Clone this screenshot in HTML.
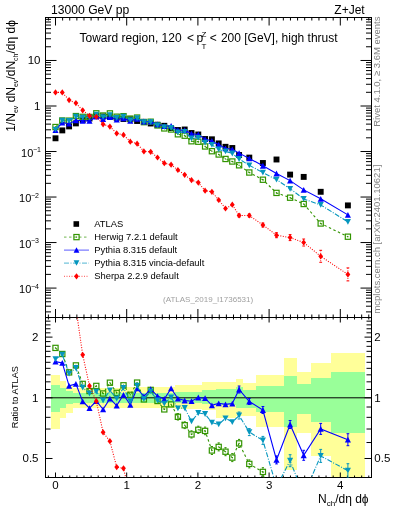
<!DOCTYPE html>
<html><head><meta charset="utf-8"><style>
html,body{margin:0;padding:0;background:#fff;width:393px;height:512px;overflow:hidden}
svg{display:block;font-family:"Liberation Sans", sans-serif;will-change:transform}
</style></head><body>
<svg width="393" height="512" viewBox="0 0 393 512">
<rect x="0" y="0" width="393" height="512" fill="#fff"/>
<defs><clipPath id="cu"><rect x="45.5" y="17.5" width="326" height="300"/></clipPath><clipPath id="cr"><rect x="45.5" y="317.5" width="326" height="160"/></clipPath></defs>
<g clip-path="url(#cr)" shape-rendering="crispEdges">
<rect x="51.20" y="374.80" width="8.50" height="53.90" fill="#ffff99"/>
<rect x="51.20" y="385.30" width="8.50" height="26.70" fill="#99ff99"/>
<rect x="59.70" y="381.20" width="6.30" height="36.40" fill="#ffff99"/>
<rect x="59.70" y="388.40" width="6.30" height="19.80" fill="#99ff99"/>
<rect x="66.00" y="385.50" width="6.80" height="27.20" fill="#ffff99"/>
<rect x="66.00" y="391.00" width="6.80" height="13.40" fill="#99ff99"/>
<rect x="72.80" y="387.50" width="6.80" height="20.90" fill="#ffff99"/>
<rect x="72.80" y="392.50" width="6.80" height="10.30" fill="#99ff99"/>
<rect x="79.60" y="388.00" width="6.80" height="19.50" fill="#ffff99"/>
<rect x="79.60" y="393.00" width="6.80" height="9.50" fill="#99ff99"/>
<rect x="86.40" y="388.00" width="6.80" height="19.50" fill="#ffff99"/>
<rect x="86.40" y="393.00" width="6.80" height="9.50" fill="#99ff99"/>
<rect x="93.20" y="388.00" width="6.80" height="19.50" fill="#ffff99"/>
<rect x="93.20" y="393.00" width="6.80" height="9.50" fill="#99ff99"/>
<rect x="100.00" y="388.00" width="6.80" height="19.50" fill="#ffff99"/>
<rect x="100.00" y="393.00" width="6.80" height="9.50" fill="#99ff99"/>
<rect x="106.80" y="388.00" width="6.80" height="19.50" fill="#ffff99"/>
<rect x="106.80" y="393.00" width="6.80" height="9.50" fill="#99ff99"/>
<rect x="113.60" y="388.00" width="6.80" height="19.50" fill="#ffff99"/>
<rect x="113.60" y="393.00" width="6.80" height="9.50" fill="#99ff99"/>
<rect x="120.40" y="387.00" width="6.80" height="20.50" fill="#ffff99"/>
<rect x="120.40" y="392.50" width="6.80" height="10.00" fill="#99ff99"/>
<rect x="127.20" y="387.00" width="6.80" height="20.50" fill="#ffff99"/>
<rect x="127.20" y="392.50" width="6.80" height="10.00" fill="#99ff99"/>
<rect x="134.00" y="387.00" width="6.80" height="20.50" fill="#ffff99"/>
<rect x="134.00" y="392.50" width="6.80" height="10.00" fill="#99ff99"/>
<rect x="140.80" y="387.00" width="6.80" height="20.50" fill="#ffff99"/>
<rect x="140.80" y="392.50" width="6.80" height="10.00" fill="#99ff99"/>
<rect x="147.60" y="387.00" width="6.80" height="20.50" fill="#ffff99"/>
<rect x="147.60" y="392.50" width="6.80" height="10.00" fill="#99ff99"/>
<rect x="154.40" y="387.00" width="6.80" height="20.50" fill="#ffff99"/>
<rect x="154.40" y="392.50" width="6.80" height="10.00" fill="#99ff99"/>
<rect x="161.20" y="387.00" width="6.80" height="20.50" fill="#ffff99"/>
<rect x="161.20" y="392.50" width="6.80" height="10.00" fill="#99ff99"/>
<rect x="168.00" y="387.00" width="6.80" height="20.50" fill="#ffff99"/>
<rect x="168.00" y="392.50" width="6.80" height="10.00" fill="#99ff99"/>
<rect x="174.80" y="385.00" width="6.80" height="23.50" fill="#ffff99"/>
<rect x="174.80" y="391.50" width="6.80" height="11.50" fill="#99ff99"/>
<rect x="181.60" y="385.00" width="6.80" height="23.50" fill="#ffff99"/>
<rect x="181.60" y="391.50" width="6.80" height="11.50" fill="#99ff99"/>
<rect x="188.40" y="385.00" width="6.80" height="23.50" fill="#ffff99"/>
<rect x="188.40" y="391.50" width="6.80" height="11.50" fill="#99ff99"/>
<rect x="195.20" y="385.00" width="6.80" height="23.50" fill="#ffff99"/>
<rect x="195.20" y="391.50" width="6.80" height="11.50" fill="#99ff99"/>
<rect x="202.00" y="382.00" width="6.80" height="27.90" fill="#ffff99"/>
<rect x="202.00" y="389.50" width="6.80" height="14.20" fill="#99ff99"/>
<rect x="208.80" y="382.00" width="6.80" height="27.90" fill="#ffff99"/>
<rect x="208.80" y="389.50" width="6.80" height="14.20" fill="#99ff99"/>
<rect x="215.60" y="382.40" width="6.80" height="35.50" fill="#ffff99"/>
<rect x="215.60" y="389.20" width="6.80" height="16.10" fill="#99ff99"/>
<rect x="222.40" y="382.40" width="6.80" height="35.50" fill="#ffff99"/>
<rect x="222.40" y="389.20" width="6.80" height="16.10" fill="#99ff99"/>
<rect x="229.20" y="382.40" width="6.80" height="35.50" fill="#ffff99"/>
<rect x="229.20" y="389.20" width="6.80" height="16.10" fill="#99ff99"/>
<rect x="236.00" y="379.40" width="6.80" height="36.20" fill="#ffff99"/>
<rect x="236.00" y="387.00" width="6.80" height="20.60" fill="#99ff99"/>
<rect x="242.80" y="383.00" width="13.60" height="32.60" fill="#ffff99"/>
<rect x="242.80" y="390.00" width="13.60" height="17.60" fill="#99ff99"/>
<rect x="256.40" y="375.00" width="13.60" height="52.30" fill="#ffff99"/>
<rect x="256.40" y="385.50" width="13.60" height="26.70" fill="#99ff99"/>
<rect x="270.00" y="375.00" width="13.60" height="52.30" fill="#ffff99"/>
<rect x="270.00" y="385.50" width="13.60" height="26.70" fill="#99ff99"/>
<rect x="283.60" y="358.30" width="13.60" height="111.30" fill="#ffff99"/>
<rect x="283.60" y="376.00" width="13.60" height="50.60" fill="#99ff99"/>
<rect x="297.20" y="372.00" width="13.60" height="61.10" fill="#ffff99"/>
<rect x="297.20" y="384.00" width="13.60" height="29.60" fill="#99ff99"/>
<rect x="310.80" y="362.90" width="20.40" height="92.90" fill="#ffff99"/>
<rect x="310.80" y="378.00" width="20.40" height="44.00" fill="#99ff99"/>
<rect x="331.20" y="352.90" width="34.00" height="125.10" fill="#ffff99"/>
<rect x="331.20" y="372.30" width="34.00" height="60.70" fill="#99ff99"/>
</g>
<rect x="45.5" y="17.5" width="326.0" height="300.0" fill="none" stroke="#000" stroke-width="1"/>
<rect x="45.5" y="317.5" width="326.0" height="160.0" fill="none" stroke="#000" stroke-width="1"/>
<line x1="48.38" y1="17.50" x2="48.38" y2="20.50" stroke="#000" stroke-width="1" />
<line x1="48.38" y1="317.50" x2="48.38" y2="314.50" stroke="#000" stroke-width="1" />
<line x1="48.38" y1="317.50" x2="48.38" y2="319.50" stroke="#000" stroke-width="1" />
<line x1="48.38" y1="477.50" x2="48.38" y2="475.50" stroke="#000" stroke-width="1" />
<line x1="55.50" y1="17.50" x2="55.50" y2="25.50" stroke="#000" stroke-width="1" />
<line x1="55.50" y1="317.50" x2="55.50" y2="309.00" stroke="#000" stroke-width="1" />
<line x1="55.50" y1="317.50" x2="55.50" y2="322.50" stroke="#000" stroke-width="1" />
<line x1="55.50" y1="477.50" x2="55.50" y2="472.50" stroke="#000" stroke-width="1" />
<line x1="62.62" y1="17.50" x2="62.62" y2="20.50" stroke="#000" stroke-width="1" />
<line x1="62.62" y1="317.50" x2="62.62" y2="314.50" stroke="#000" stroke-width="1" />
<line x1="62.62" y1="317.50" x2="62.62" y2="319.50" stroke="#000" stroke-width="1" />
<line x1="62.62" y1="477.50" x2="62.62" y2="475.50" stroke="#000" stroke-width="1" />
<line x1="69.74" y1="17.50" x2="69.74" y2="20.50" stroke="#000" stroke-width="1" />
<line x1="69.74" y1="317.50" x2="69.74" y2="314.50" stroke="#000" stroke-width="1" />
<line x1="69.74" y1="317.50" x2="69.74" y2="319.50" stroke="#000" stroke-width="1" />
<line x1="69.74" y1="477.50" x2="69.74" y2="475.50" stroke="#000" stroke-width="1" />
<line x1="76.86" y1="17.50" x2="76.86" y2="20.50" stroke="#000" stroke-width="1" />
<line x1="76.86" y1="317.50" x2="76.86" y2="314.50" stroke="#000" stroke-width="1" />
<line x1="76.86" y1="317.50" x2="76.86" y2="319.50" stroke="#000" stroke-width="1" />
<line x1="76.86" y1="477.50" x2="76.86" y2="475.50" stroke="#000" stroke-width="1" />
<line x1="83.98" y1="17.50" x2="83.98" y2="20.50" stroke="#000" stroke-width="1" />
<line x1="83.98" y1="317.50" x2="83.98" y2="314.50" stroke="#000" stroke-width="1" />
<line x1="83.98" y1="317.50" x2="83.98" y2="319.50" stroke="#000" stroke-width="1" />
<line x1="83.98" y1="477.50" x2="83.98" y2="475.50" stroke="#000" stroke-width="1" />
<line x1="91.10" y1="17.50" x2="91.10" y2="20.50" stroke="#000" stroke-width="1" />
<line x1="91.10" y1="317.50" x2="91.10" y2="314.50" stroke="#000" stroke-width="1" />
<line x1="91.10" y1="317.50" x2="91.10" y2="319.50" stroke="#000" stroke-width="1" />
<line x1="91.10" y1="477.50" x2="91.10" y2="475.50" stroke="#000" stroke-width="1" />
<line x1="98.22" y1="17.50" x2="98.22" y2="20.50" stroke="#000" stroke-width="1" />
<line x1="98.22" y1="317.50" x2="98.22" y2="314.50" stroke="#000" stroke-width="1" />
<line x1="98.22" y1="317.50" x2="98.22" y2="319.50" stroke="#000" stroke-width="1" />
<line x1="98.22" y1="477.50" x2="98.22" y2="475.50" stroke="#000" stroke-width="1" />
<line x1="105.34" y1="17.50" x2="105.34" y2="20.50" stroke="#000" stroke-width="1" />
<line x1="105.34" y1="317.50" x2="105.34" y2="314.50" stroke="#000" stroke-width="1" />
<line x1="105.34" y1="317.50" x2="105.34" y2="319.50" stroke="#000" stroke-width="1" />
<line x1="105.34" y1="477.50" x2="105.34" y2="475.50" stroke="#000" stroke-width="1" />
<line x1="112.46" y1="17.50" x2="112.46" y2="20.50" stroke="#000" stroke-width="1" />
<line x1="112.46" y1="317.50" x2="112.46" y2="314.50" stroke="#000" stroke-width="1" />
<line x1="112.46" y1="317.50" x2="112.46" y2="319.50" stroke="#000" stroke-width="1" />
<line x1="112.46" y1="477.50" x2="112.46" y2="475.50" stroke="#000" stroke-width="1" />
<line x1="119.58" y1="17.50" x2="119.58" y2="20.50" stroke="#000" stroke-width="1" />
<line x1="119.58" y1="317.50" x2="119.58" y2="314.50" stroke="#000" stroke-width="1" />
<line x1="119.58" y1="317.50" x2="119.58" y2="319.50" stroke="#000" stroke-width="1" />
<line x1="119.58" y1="477.50" x2="119.58" y2="475.50" stroke="#000" stroke-width="1" />
<line x1="126.70" y1="17.50" x2="126.70" y2="25.50" stroke="#000" stroke-width="1" />
<line x1="126.70" y1="317.50" x2="126.70" y2="309.00" stroke="#000" stroke-width="1" />
<line x1="126.70" y1="317.50" x2="126.70" y2="322.50" stroke="#000" stroke-width="1" />
<line x1="126.70" y1="477.50" x2="126.70" y2="472.50" stroke="#000" stroke-width="1" />
<line x1="133.82" y1="17.50" x2="133.82" y2="20.50" stroke="#000" stroke-width="1" />
<line x1="133.82" y1="317.50" x2="133.82" y2="314.50" stroke="#000" stroke-width="1" />
<line x1="133.82" y1="317.50" x2="133.82" y2="319.50" stroke="#000" stroke-width="1" />
<line x1="133.82" y1="477.50" x2="133.82" y2="475.50" stroke="#000" stroke-width="1" />
<line x1="140.94" y1="17.50" x2="140.94" y2="20.50" stroke="#000" stroke-width="1" />
<line x1="140.94" y1="317.50" x2="140.94" y2="314.50" stroke="#000" stroke-width="1" />
<line x1="140.94" y1="317.50" x2="140.94" y2="319.50" stroke="#000" stroke-width="1" />
<line x1="140.94" y1="477.50" x2="140.94" y2="475.50" stroke="#000" stroke-width="1" />
<line x1="148.06" y1="17.50" x2="148.06" y2="20.50" stroke="#000" stroke-width="1" />
<line x1="148.06" y1="317.50" x2="148.06" y2="314.50" stroke="#000" stroke-width="1" />
<line x1="148.06" y1="317.50" x2="148.06" y2="319.50" stroke="#000" stroke-width="1" />
<line x1="148.06" y1="477.50" x2="148.06" y2="475.50" stroke="#000" stroke-width="1" />
<line x1="155.18" y1="17.50" x2="155.18" y2="20.50" stroke="#000" stroke-width="1" />
<line x1="155.18" y1="317.50" x2="155.18" y2="314.50" stroke="#000" stroke-width="1" />
<line x1="155.18" y1="317.50" x2="155.18" y2="319.50" stroke="#000" stroke-width="1" />
<line x1="155.18" y1="477.50" x2="155.18" y2="475.50" stroke="#000" stroke-width="1" />
<line x1="162.30" y1="17.50" x2="162.30" y2="20.50" stroke="#000" stroke-width="1" />
<line x1="162.30" y1="317.50" x2="162.30" y2="314.50" stroke="#000" stroke-width="1" />
<line x1="162.30" y1="317.50" x2="162.30" y2="319.50" stroke="#000" stroke-width="1" />
<line x1="162.30" y1="477.50" x2="162.30" y2="475.50" stroke="#000" stroke-width="1" />
<line x1="169.42" y1="17.50" x2="169.42" y2="20.50" stroke="#000" stroke-width="1" />
<line x1="169.42" y1="317.50" x2="169.42" y2="314.50" stroke="#000" stroke-width="1" />
<line x1="169.42" y1="317.50" x2="169.42" y2="319.50" stroke="#000" stroke-width="1" />
<line x1="169.42" y1="477.50" x2="169.42" y2="475.50" stroke="#000" stroke-width="1" />
<line x1="176.54" y1="17.50" x2="176.54" y2="20.50" stroke="#000" stroke-width="1" />
<line x1="176.54" y1="317.50" x2="176.54" y2="314.50" stroke="#000" stroke-width="1" />
<line x1="176.54" y1="317.50" x2="176.54" y2="319.50" stroke="#000" stroke-width="1" />
<line x1="176.54" y1="477.50" x2="176.54" y2="475.50" stroke="#000" stroke-width="1" />
<line x1="183.66" y1="17.50" x2="183.66" y2="20.50" stroke="#000" stroke-width="1" />
<line x1="183.66" y1="317.50" x2="183.66" y2="314.50" stroke="#000" stroke-width="1" />
<line x1="183.66" y1="317.50" x2="183.66" y2="319.50" stroke="#000" stroke-width="1" />
<line x1="183.66" y1="477.50" x2="183.66" y2="475.50" stroke="#000" stroke-width="1" />
<line x1="190.78" y1="17.50" x2="190.78" y2="20.50" stroke="#000" stroke-width="1" />
<line x1="190.78" y1="317.50" x2="190.78" y2="314.50" stroke="#000" stroke-width="1" />
<line x1="190.78" y1="317.50" x2="190.78" y2="319.50" stroke="#000" stroke-width="1" />
<line x1="190.78" y1="477.50" x2="190.78" y2="475.50" stroke="#000" stroke-width="1" />
<line x1="197.90" y1="17.50" x2="197.90" y2="25.50" stroke="#000" stroke-width="1" />
<line x1="197.90" y1="317.50" x2="197.90" y2="309.00" stroke="#000" stroke-width="1" />
<line x1="197.90" y1="317.50" x2="197.90" y2="322.50" stroke="#000" stroke-width="1" />
<line x1="197.90" y1="477.50" x2="197.90" y2="472.50" stroke="#000" stroke-width="1" />
<line x1="205.02" y1="17.50" x2="205.02" y2="20.50" stroke="#000" stroke-width="1" />
<line x1="205.02" y1="317.50" x2="205.02" y2="314.50" stroke="#000" stroke-width="1" />
<line x1="205.02" y1="317.50" x2="205.02" y2="319.50" stroke="#000" stroke-width="1" />
<line x1="205.02" y1="477.50" x2="205.02" y2="475.50" stroke="#000" stroke-width="1" />
<line x1="212.14" y1="17.50" x2="212.14" y2="20.50" stroke="#000" stroke-width="1" />
<line x1="212.14" y1="317.50" x2="212.14" y2="314.50" stroke="#000" stroke-width="1" />
<line x1="212.14" y1="317.50" x2="212.14" y2="319.50" stroke="#000" stroke-width="1" />
<line x1="212.14" y1="477.50" x2="212.14" y2="475.50" stroke="#000" stroke-width="1" />
<line x1="219.26" y1="17.50" x2="219.26" y2="20.50" stroke="#000" stroke-width="1" />
<line x1="219.26" y1="317.50" x2="219.26" y2="314.50" stroke="#000" stroke-width="1" />
<line x1="219.26" y1="317.50" x2="219.26" y2="319.50" stroke="#000" stroke-width="1" />
<line x1="219.26" y1="477.50" x2="219.26" y2="475.50" stroke="#000" stroke-width="1" />
<line x1="226.38" y1="17.50" x2="226.38" y2="20.50" stroke="#000" stroke-width="1" />
<line x1="226.38" y1="317.50" x2="226.38" y2="314.50" stroke="#000" stroke-width="1" />
<line x1="226.38" y1="317.50" x2="226.38" y2="319.50" stroke="#000" stroke-width="1" />
<line x1="226.38" y1="477.50" x2="226.38" y2="475.50" stroke="#000" stroke-width="1" />
<line x1="233.50" y1="17.50" x2="233.50" y2="20.50" stroke="#000" stroke-width="1" />
<line x1="233.50" y1="317.50" x2="233.50" y2="314.50" stroke="#000" stroke-width="1" />
<line x1="233.50" y1="317.50" x2="233.50" y2="319.50" stroke="#000" stroke-width="1" />
<line x1="233.50" y1="477.50" x2="233.50" y2="475.50" stroke="#000" stroke-width="1" />
<line x1="240.62" y1="17.50" x2="240.62" y2="20.50" stroke="#000" stroke-width="1" />
<line x1="240.62" y1="317.50" x2="240.62" y2="314.50" stroke="#000" stroke-width="1" />
<line x1="240.62" y1="317.50" x2="240.62" y2="319.50" stroke="#000" stroke-width="1" />
<line x1="240.62" y1="477.50" x2="240.62" y2="475.50" stroke="#000" stroke-width="1" />
<line x1="247.74" y1="17.50" x2="247.74" y2="20.50" stroke="#000" stroke-width="1" />
<line x1="247.74" y1="317.50" x2="247.74" y2="314.50" stroke="#000" stroke-width="1" />
<line x1="247.74" y1="317.50" x2="247.74" y2="319.50" stroke="#000" stroke-width="1" />
<line x1="247.74" y1="477.50" x2="247.74" y2="475.50" stroke="#000" stroke-width="1" />
<line x1="254.86" y1="17.50" x2="254.86" y2="20.50" stroke="#000" stroke-width="1" />
<line x1="254.86" y1="317.50" x2="254.86" y2="314.50" stroke="#000" stroke-width="1" />
<line x1="254.86" y1="317.50" x2="254.86" y2="319.50" stroke="#000" stroke-width="1" />
<line x1="254.86" y1="477.50" x2="254.86" y2="475.50" stroke="#000" stroke-width="1" />
<line x1="261.98" y1="17.50" x2="261.98" y2="20.50" stroke="#000" stroke-width="1" />
<line x1="261.98" y1="317.50" x2="261.98" y2="314.50" stroke="#000" stroke-width="1" />
<line x1="261.98" y1="317.50" x2="261.98" y2="319.50" stroke="#000" stroke-width="1" />
<line x1="261.98" y1="477.50" x2="261.98" y2="475.50" stroke="#000" stroke-width="1" />
<line x1="269.10" y1="17.50" x2="269.10" y2="25.50" stroke="#000" stroke-width="1" />
<line x1="269.10" y1="317.50" x2="269.10" y2="309.00" stroke="#000" stroke-width="1" />
<line x1="269.10" y1="317.50" x2="269.10" y2="322.50" stroke="#000" stroke-width="1" />
<line x1="269.10" y1="477.50" x2="269.10" y2="472.50" stroke="#000" stroke-width="1" />
<line x1="276.22" y1="17.50" x2="276.22" y2="20.50" stroke="#000" stroke-width="1" />
<line x1="276.22" y1="317.50" x2="276.22" y2="314.50" stroke="#000" stroke-width="1" />
<line x1="276.22" y1="317.50" x2="276.22" y2="319.50" stroke="#000" stroke-width="1" />
<line x1="276.22" y1="477.50" x2="276.22" y2="475.50" stroke="#000" stroke-width="1" />
<line x1="283.34" y1="17.50" x2="283.34" y2="20.50" stroke="#000" stroke-width="1" />
<line x1="283.34" y1="317.50" x2="283.34" y2="314.50" stroke="#000" stroke-width="1" />
<line x1="283.34" y1="317.50" x2="283.34" y2="319.50" stroke="#000" stroke-width="1" />
<line x1="283.34" y1="477.50" x2="283.34" y2="475.50" stroke="#000" stroke-width="1" />
<line x1="290.46" y1="17.50" x2="290.46" y2="20.50" stroke="#000" stroke-width="1" />
<line x1="290.46" y1="317.50" x2="290.46" y2="314.50" stroke="#000" stroke-width="1" />
<line x1="290.46" y1="317.50" x2="290.46" y2="319.50" stroke="#000" stroke-width="1" />
<line x1="290.46" y1="477.50" x2="290.46" y2="475.50" stroke="#000" stroke-width="1" />
<line x1="297.58" y1="17.50" x2="297.58" y2="20.50" stroke="#000" stroke-width="1" />
<line x1="297.58" y1="317.50" x2="297.58" y2="314.50" stroke="#000" stroke-width="1" />
<line x1="297.58" y1="317.50" x2="297.58" y2="319.50" stroke="#000" stroke-width="1" />
<line x1="297.58" y1="477.50" x2="297.58" y2="475.50" stroke="#000" stroke-width="1" />
<line x1="304.70" y1="17.50" x2="304.70" y2="20.50" stroke="#000" stroke-width="1" />
<line x1="304.70" y1="317.50" x2="304.70" y2="314.50" stroke="#000" stroke-width="1" />
<line x1="304.70" y1="317.50" x2="304.70" y2="319.50" stroke="#000" stroke-width="1" />
<line x1="304.70" y1="477.50" x2="304.70" y2="475.50" stroke="#000" stroke-width="1" />
<line x1="311.82" y1="17.50" x2="311.82" y2="20.50" stroke="#000" stroke-width="1" />
<line x1="311.82" y1="317.50" x2="311.82" y2="314.50" stroke="#000" stroke-width="1" />
<line x1="311.82" y1="317.50" x2="311.82" y2="319.50" stroke="#000" stroke-width="1" />
<line x1="311.82" y1="477.50" x2="311.82" y2="475.50" stroke="#000" stroke-width="1" />
<line x1="318.94" y1="17.50" x2="318.94" y2="20.50" stroke="#000" stroke-width="1" />
<line x1="318.94" y1="317.50" x2="318.94" y2="314.50" stroke="#000" stroke-width="1" />
<line x1="318.94" y1="317.50" x2="318.94" y2="319.50" stroke="#000" stroke-width="1" />
<line x1="318.94" y1="477.50" x2="318.94" y2="475.50" stroke="#000" stroke-width="1" />
<line x1="326.06" y1="17.50" x2="326.06" y2="20.50" stroke="#000" stroke-width="1" />
<line x1="326.06" y1="317.50" x2="326.06" y2="314.50" stroke="#000" stroke-width="1" />
<line x1="326.06" y1="317.50" x2="326.06" y2="319.50" stroke="#000" stroke-width="1" />
<line x1="326.06" y1="477.50" x2="326.06" y2="475.50" stroke="#000" stroke-width="1" />
<line x1="333.18" y1="17.50" x2="333.18" y2="20.50" stroke="#000" stroke-width="1" />
<line x1="333.18" y1="317.50" x2="333.18" y2="314.50" stroke="#000" stroke-width="1" />
<line x1="333.18" y1="317.50" x2="333.18" y2="319.50" stroke="#000" stroke-width="1" />
<line x1="333.18" y1="477.50" x2="333.18" y2="475.50" stroke="#000" stroke-width="1" />
<line x1="340.30" y1="17.50" x2="340.30" y2="25.50" stroke="#000" stroke-width="1" />
<line x1="340.30" y1="317.50" x2="340.30" y2="309.00" stroke="#000" stroke-width="1" />
<line x1="340.30" y1="317.50" x2="340.30" y2="322.50" stroke="#000" stroke-width="1" />
<line x1="340.30" y1="477.50" x2="340.30" y2="472.50" stroke="#000" stroke-width="1" />
<line x1="347.42" y1="17.50" x2="347.42" y2="20.50" stroke="#000" stroke-width="1" />
<line x1="347.42" y1="317.50" x2="347.42" y2="314.50" stroke="#000" stroke-width="1" />
<line x1="347.42" y1="317.50" x2="347.42" y2="319.50" stroke="#000" stroke-width="1" />
<line x1="347.42" y1="477.50" x2="347.42" y2="475.50" stroke="#000" stroke-width="1" />
<line x1="354.54" y1="17.50" x2="354.54" y2="20.50" stroke="#000" stroke-width="1" />
<line x1="354.54" y1="317.50" x2="354.54" y2="314.50" stroke="#000" stroke-width="1" />
<line x1="354.54" y1="317.50" x2="354.54" y2="319.50" stroke="#000" stroke-width="1" />
<line x1="354.54" y1="477.50" x2="354.54" y2="475.50" stroke="#000" stroke-width="1" />
<line x1="361.66" y1="17.50" x2="361.66" y2="20.50" stroke="#000" stroke-width="1" />
<line x1="361.66" y1="317.50" x2="361.66" y2="314.50" stroke="#000" stroke-width="1" />
<line x1="361.66" y1="317.50" x2="361.66" y2="319.50" stroke="#000" stroke-width="1" />
<line x1="361.66" y1="477.50" x2="361.66" y2="475.50" stroke="#000" stroke-width="1" />
<line x1="368.78" y1="17.50" x2="368.78" y2="20.50" stroke="#000" stroke-width="1" />
<line x1="368.78" y1="317.50" x2="368.78" y2="314.50" stroke="#000" stroke-width="1" />
<line x1="368.78" y1="317.50" x2="368.78" y2="319.50" stroke="#000" stroke-width="1" />
<line x1="368.78" y1="477.50" x2="368.78" y2="475.50" stroke="#000" stroke-width="1" />
<line x1="45.50" y1="311.88" x2="51.00" y2="311.88" stroke="#000" stroke-width="1" />
<line x1="371.50" y1="311.88" x2="366.00" y2="311.88" stroke="#000" stroke-width="1" />
<line x1="45.50" y1="306.19" x2="51.00" y2="306.19" stroke="#000" stroke-width="1" />
<line x1="371.50" y1="306.19" x2="366.00" y2="306.19" stroke="#000" stroke-width="1" />
<line x1="45.50" y1="301.78" x2="51.00" y2="301.78" stroke="#000" stroke-width="1" />
<line x1="371.50" y1="301.78" x2="366.00" y2="301.78" stroke="#000" stroke-width="1" />
<line x1="45.50" y1="298.18" x2="51.00" y2="298.18" stroke="#000" stroke-width="1" />
<line x1="371.50" y1="298.18" x2="366.00" y2="298.18" stroke="#000" stroke-width="1" />
<line x1="45.50" y1="295.13" x2="51.00" y2="295.13" stroke="#000" stroke-width="1" />
<line x1="371.50" y1="295.13" x2="366.00" y2="295.13" stroke="#000" stroke-width="1" />
<line x1="45.50" y1="292.49" x2="51.00" y2="292.49" stroke="#000" stroke-width="1" />
<line x1="371.50" y1="292.49" x2="366.00" y2="292.49" stroke="#000" stroke-width="1" />
<line x1="45.50" y1="290.16" x2="51.00" y2="290.16" stroke="#000" stroke-width="1" />
<line x1="371.50" y1="290.16" x2="366.00" y2="290.16" stroke="#000" stroke-width="1" />
<line x1="45.50" y1="288.08" x2="56.50" y2="288.08" stroke="#000" stroke-width="1" />
<line x1="371.50" y1="288.08" x2="360.50" y2="288.08" stroke="#000" stroke-width="1" />
<line x1="45.50" y1="274.38" x2="51.00" y2="274.38" stroke="#000" stroke-width="1" />
<line x1="371.50" y1="274.38" x2="366.00" y2="274.38" stroke="#000" stroke-width="1" />
<line x1="45.50" y1="266.36" x2="51.00" y2="266.36" stroke="#000" stroke-width="1" />
<line x1="371.50" y1="266.36" x2="366.00" y2="266.36" stroke="#000" stroke-width="1" />
<line x1="45.50" y1="260.67" x2="51.00" y2="260.67" stroke="#000" stroke-width="1" />
<line x1="371.50" y1="260.67" x2="366.00" y2="260.67" stroke="#000" stroke-width="1" />
<line x1="45.50" y1="256.26" x2="51.00" y2="256.26" stroke="#000" stroke-width="1" />
<line x1="371.50" y1="256.26" x2="366.00" y2="256.26" stroke="#000" stroke-width="1" />
<line x1="45.50" y1="252.66" x2="51.00" y2="252.66" stroke="#000" stroke-width="1" />
<line x1="371.50" y1="252.66" x2="366.00" y2="252.66" stroke="#000" stroke-width="1" />
<line x1="45.50" y1="249.61" x2="51.00" y2="249.61" stroke="#000" stroke-width="1" />
<line x1="371.50" y1="249.61" x2="366.00" y2="249.61" stroke="#000" stroke-width="1" />
<line x1="45.50" y1="246.97" x2="51.00" y2="246.97" stroke="#000" stroke-width="1" />
<line x1="371.50" y1="246.97" x2="366.00" y2="246.97" stroke="#000" stroke-width="1" />
<line x1="45.50" y1="244.64" x2="51.00" y2="244.64" stroke="#000" stroke-width="1" />
<line x1="371.50" y1="244.64" x2="366.00" y2="244.64" stroke="#000" stroke-width="1" />
<line x1="45.50" y1="242.56" x2="56.50" y2="242.56" stroke="#000" stroke-width="1" />
<line x1="371.50" y1="242.56" x2="360.50" y2="242.56" stroke="#000" stroke-width="1" />
<line x1="45.50" y1="228.86" x2="51.00" y2="228.86" stroke="#000" stroke-width="1" />
<line x1="371.50" y1="228.86" x2="366.00" y2="228.86" stroke="#000" stroke-width="1" />
<line x1="45.50" y1="220.84" x2="51.00" y2="220.84" stroke="#000" stroke-width="1" />
<line x1="371.50" y1="220.84" x2="366.00" y2="220.84" stroke="#000" stroke-width="1" />
<line x1="45.50" y1="215.15" x2="51.00" y2="215.15" stroke="#000" stroke-width="1" />
<line x1="371.50" y1="215.15" x2="366.00" y2="215.15" stroke="#000" stroke-width="1" />
<line x1="45.50" y1="210.74" x2="51.00" y2="210.74" stroke="#000" stroke-width="1" />
<line x1="371.50" y1="210.74" x2="366.00" y2="210.74" stroke="#000" stroke-width="1" />
<line x1="45.50" y1="207.14" x2="51.00" y2="207.14" stroke="#000" stroke-width="1" />
<line x1="371.50" y1="207.14" x2="366.00" y2="207.14" stroke="#000" stroke-width="1" />
<line x1="45.50" y1="204.09" x2="51.00" y2="204.09" stroke="#000" stroke-width="1" />
<line x1="371.50" y1="204.09" x2="366.00" y2="204.09" stroke="#000" stroke-width="1" />
<line x1="45.50" y1="201.45" x2="51.00" y2="201.45" stroke="#000" stroke-width="1" />
<line x1="371.50" y1="201.45" x2="366.00" y2="201.45" stroke="#000" stroke-width="1" />
<line x1="45.50" y1="199.12" x2="51.00" y2="199.12" stroke="#000" stroke-width="1" />
<line x1="371.50" y1="199.12" x2="366.00" y2="199.12" stroke="#000" stroke-width="1" />
<line x1="45.50" y1="197.04" x2="56.50" y2="197.04" stroke="#000" stroke-width="1" />
<line x1="371.50" y1="197.04" x2="360.50" y2="197.04" stroke="#000" stroke-width="1" />
<line x1="45.50" y1="183.34" x2="51.00" y2="183.34" stroke="#000" stroke-width="1" />
<line x1="371.50" y1="183.34" x2="366.00" y2="183.34" stroke="#000" stroke-width="1" />
<line x1="45.50" y1="175.32" x2="51.00" y2="175.32" stroke="#000" stroke-width="1" />
<line x1="371.50" y1="175.32" x2="366.00" y2="175.32" stroke="#000" stroke-width="1" />
<line x1="45.50" y1="169.63" x2="51.00" y2="169.63" stroke="#000" stroke-width="1" />
<line x1="371.50" y1="169.63" x2="366.00" y2="169.63" stroke="#000" stroke-width="1" />
<line x1="45.50" y1="165.22" x2="51.00" y2="165.22" stroke="#000" stroke-width="1" />
<line x1="371.50" y1="165.22" x2="366.00" y2="165.22" stroke="#000" stroke-width="1" />
<line x1="45.50" y1="161.62" x2="51.00" y2="161.62" stroke="#000" stroke-width="1" />
<line x1="371.50" y1="161.62" x2="366.00" y2="161.62" stroke="#000" stroke-width="1" />
<line x1="45.50" y1="158.57" x2="51.00" y2="158.57" stroke="#000" stroke-width="1" />
<line x1="371.50" y1="158.57" x2="366.00" y2="158.57" stroke="#000" stroke-width="1" />
<line x1="45.50" y1="155.93" x2="51.00" y2="155.93" stroke="#000" stroke-width="1" />
<line x1="371.50" y1="155.93" x2="366.00" y2="155.93" stroke="#000" stroke-width="1" />
<line x1="45.50" y1="153.60" x2="51.00" y2="153.60" stroke="#000" stroke-width="1" />
<line x1="371.50" y1="153.60" x2="366.00" y2="153.60" stroke="#000" stroke-width="1" />
<line x1="45.50" y1="151.52" x2="56.50" y2="151.52" stroke="#000" stroke-width="1" />
<line x1="371.50" y1="151.52" x2="360.50" y2="151.52" stroke="#000" stroke-width="1" />
<line x1="45.50" y1="137.82" x2="51.00" y2="137.82" stroke="#000" stroke-width="1" />
<line x1="371.50" y1="137.82" x2="366.00" y2="137.82" stroke="#000" stroke-width="1" />
<line x1="45.50" y1="129.80" x2="51.00" y2="129.80" stroke="#000" stroke-width="1" />
<line x1="371.50" y1="129.80" x2="366.00" y2="129.80" stroke="#000" stroke-width="1" />
<line x1="45.50" y1="124.11" x2="51.00" y2="124.11" stroke="#000" stroke-width="1" />
<line x1="371.50" y1="124.11" x2="366.00" y2="124.11" stroke="#000" stroke-width="1" />
<line x1="45.50" y1="119.70" x2="51.00" y2="119.70" stroke="#000" stroke-width="1" />
<line x1="371.50" y1="119.70" x2="366.00" y2="119.70" stroke="#000" stroke-width="1" />
<line x1="45.50" y1="116.10" x2="51.00" y2="116.10" stroke="#000" stroke-width="1" />
<line x1="371.50" y1="116.10" x2="366.00" y2="116.10" stroke="#000" stroke-width="1" />
<line x1="45.50" y1="113.05" x2="51.00" y2="113.05" stroke="#000" stroke-width="1" />
<line x1="371.50" y1="113.05" x2="366.00" y2="113.05" stroke="#000" stroke-width="1" />
<line x1="45.50" y1="110.41" x2="51.00" y2="110.41" stroke="#000" stroke-width="1" />
<line x1="371.50" y1="110.41" x2="366.00" y2="110.41" stroke="#000" stroke-width="1" />
<line x1="45.50" y1="108.08" x2="51.00" y2="108.08" stroke="#000" stroke-width="1" />
<line x1="371.50" y1="108.08" x2="366.00" y2="108.08" stroke="#000" stroke-width="1" />
<line x1="45.50" y1="106.00" x2="56.50" y2="106.00" stroke="#000" stroke-width="1" />
<line x1="371.50" y1="106.00" x2="360.50" y2="106.00" stroke="#000" stroke-width="1" />
<line x1="45.50" y1="92.30" x2="51.00" y2="92.30" stroke="#000" stroke-width="1" />
<line x1="371.50" y1="92.30" x2="366.00" y2="92.30" stroke="#000" stroke-width="1" />
<line x1="45.50" y1="84.28" x2="51.00" y2="84.28" stroke="#000" stroke-width="1" />
<line x1="371.50" y1="84.28" x2="366.00" y2="84.28" stroke="#000" stroke-width="1" />
<line x1="45.50" y1="78.59" x2="51.00" y2="78.59" stroke="#000" stroke-width="1" />
<line x1="371.50" y1="78.59" x2="366.00" y2="78.59" stroke="#000" stroke-width="1" />
<line x1="45.50" y1="74.18" x2="51.00" y2="74.18" stroke="#000" stroke-width="1" />
<line x1="371.50" y1="74.18" x2="366.00" y2="74.18" stroke="#000" stroke-width="1" />
<line x1="45.50" y1="70.58" x2="51.00" y2="70.58" stroke="#000" stroke-width="1" />
<line x1="371.50" y1="70.58" x2="366.00" y2="70.58" stroke="#000" stroke-width="1" />
<line x1="45.50" y1="67.53" x2="51.00" y2="67.53" stroke="#000" stroke-width="1" />
<line x1="371.50" y1="67.53" x2="366.00" y2="67.53" stroke="#000" stroke-width="1" />
<line x1="45.50" y1="64.89" x2="51.00" y2="64.89" stroke="#000" stroke-width="1" />
<line x1="371.50" y1="64.89" x2="366.00" y2="64.89" stroke="#000" stroke-width="1" />
<line x1="45.50" y1="62.56" x2="51.00" y2="62.56" stroke="#000" stroke-width="1" />
<line x1="371.50" y1="62.56" x2="366.00" y2="62.56" stroke="#000" stroke-width="1" />
<line x1="45.50" y1="60.48" x2="56.50" y2="60.48" stroke="#000" stroke-width="1" />
<line x1="371.50" y1="60.48" x2="360.50" y2="60.48" stroke="#000" stroke-width="1" />
<line x1="45.50" y1="46.78" x2="51.00" y2="46.78" stroke="#000" stroke-width="1" />
<line x1="371.50" y1="46.78" x2="366.00" y2="46.78" stroke="#000" stroke-width="1" />
<line x1="45.50" y1="38.76" x2="51.00" y2="38.76" stroke="#000" stroke-width="1" />
<line x1="371.50" y1="38.76" x2="366.00" y2="38.76" stroke="#000" stroke-width="1" />
<line x1="45.50" y1="33.07" x2="51.00" y2="33.07" stroke="#000" stroke-width="1" />
<line x1="371.50" y1="33.07" x2="366.00" y2="33.07" stroke="#000" stroke-width="1" />
<line x1="45.50" y1="28.66" x2="51.00" y2="28.66" stroke="#000" stroke-width="1" />
<line x1="371.50" y1="28.66" x2="366.00" y2="28.66" stroke="#000" stroke-width="1" />
<line x1="45.50" y1="25.06" x2="51.00" y2="25.06" stroke="#000" stroke-width="1" />
<line x1="371.50" y1="25.06" x2="366.00" y2="25.06" stroke="#000" stroke-width="1" />
<line x1="45.50" y1="22.01" x2="51.00" y2="22.01" stroke="#000" stroke-width="1" />
<line x1="371.50" y1="22.01" x2="366.00" y2="22.01" stroke="#000" stroke-width="1" />
<line x1="45.50" y1="19.37" x2="51.00" y2="19.37" stroke="#000" stroke-width="1" />
<line x1="371.50" y1="19.37" x2="366.00" y2="19.37" stroke="#000" stroke-width="1" />
<line x1="45.50" y1="458.49" x2="52.50" y2="458.49" stroke="#000" stroke-width="1" />
<line x1="371.50" y1="458.49" x2="364.50" y2="458.49" stroke="#000" stroke-width="1" />
<line x1="45.50" y1="442.52" x2="50.50" y2="442.52" stroke="#000" stroke-width="1" />
<line x1="371.50" y1="442.52" x2="366.50" y2="442.52" stroke="#000" stroke-width="1" />
<line x1="45.50" y1="429.03" x2="50.50" y2="429.03" stroke="#000" stroke-width="1" />
<line x1="371.50" y1="429.03" x2="366.50" y2="429.03" stroke="#000" stroke-width="1" />
<line x1="45.50" y1="417.34" x2="50.50" y2="417.34" stroke="#000" stroke-width="1" />
<line x1="371.50" y1="417.34" x2="366.50" y2="417.34" stroke="#000" stroke-width="1" />
<line x1="45.50" y1="407.02" x2="50.50" y2="407.02" stroke="#000" stroke-width="1" />
<line x1="371.50" y1="407.02" x2="366.50" y2="407.02" stroke="#000" stroke-width="1" />
<line x1="45.50" y1="397.80" x2="52.50" y2="397.80" stroke="#000" stroke-width="1" />
<line x1="371.50" y1="397.80" x2="364.50" y2="397.80" stroke="#000" stroke-width="1" />
<line x1="45.50" y1="389.46" x2="50.50" y2="389.46" stroke="#000" stroke-width="1" />
<line x1="371.50" y1="389.46" x2="366.50" y2="389.46" stroke="#000" stroke-width="1" />
<line x1="45.50" y1="381.84" x2="50.50" y2="381.84" stroke="#000" stroke-width="1" />
<line x1="371.50" y1="381.84" x2="366.50" y2="381.84" stroke="#000" stroke-width="1" />
<line x1="45.50" y1="374.83" x2="50.50" y2="374.83" stroke="#000" stroke-width="1" />
<line x1="371.50" y1="374.83" x2="366.50" y2="374.83" stroke="#000" stroke-width="1" />
<line x1="45.50" y1="368.34" x2="50.50" y2="368.34" stroke="#000" stroke-width="1" />
<line x1="371.50" y1="368.34" x2="366.50" y2="368.34" stroke="#000" stroke-width="1" />
<line x1="45.50" y1="362.30" x2="50.50" y2="362.30" stroke="#000" stroke-width="1" />
<line x1="371.50" y1="362.30" x2="366.50" y2="362.30" stroke="#000" stroke-width="1" />
<line x1="45.50" y1="356.65" x2="50.50" y2="356.65" stroke="#000" stroke-width="1" />
<line x1="371.50" y1="356.65" x2="366.50" y2="356.65" stroke="#000" stroke-width="1" />
<line x1="45.50" y1="351.34" x2="50.50" y2="351.34" stroke="#000" stroke-width="1" />
<line x1="371.50" y1="351.34" x2="366.50" y2="351.34" stroke="#000" stroke-width="1" />
<line x1="45.50" y1="346.34" x2="50.50" y2="346.34" stroke="#000" stroke-width="1" />
<line x1="371.50" y1="346.34" x2="366.50" y2="346.34" stroke="#000" stroke-width="1" />
<line x1="45.50" y1="341.60" x2="50.50" y2="341.60" stroke="#000" stroke-width="1" />
<line x1="371.50" y1="341.60" x2="366.50" y2="341.60" stroke="#000" stroke-width="1" />
<line x1="45.50" y1="337.11" x2="52.50" y2="337.11" stroke="#000" stroke-width="1" />
<line x1="371.50" y1="337.11" x2="364.50" y2="337.11" stroke="#000" stroke-width="1" />
<line x1="45.50" y1="332.84" x2="50.50" y2="332.84" stroke="#000" stroke-width="1" />
<line x1="371.50" y1="332.84" x2="366.50" y2="332.84" stroke="#000" stroke-width="1" />
<line x1="45.50" y1="328.77" x2="50.50" y2="328.77" stroke="#000" stroke-width="1" />
<line x1="371.50" y1="328.77" x2="366.50" y2="328.77" stroke="#000" stroke-width="1" />
<line x1="45.50" y1="324.88" x2="50.50" y2="324.88" stroke="#000" stroke-width="1" />
<line x1="371.50" y1="324.88" x2="366.50" y2="324.88" stroke="#000" stroke-width="1" />
<line x1="45.50" y1="321.15" x2="50.50" y2="321.15" stroke="#000" stroke-width="1" />
<line x1="371.50" y1="321.15" x2="366.50" y2="321.15" stroke="#000" stroke-width="1" />
<line x1="45.50" y1="317.58" x2="50.50" y2="317.58" stroke="#000" stroke-width="1" />
<line x1="371.50" y1="317.58" x2="366.50" y2="317.58" stroke="#000" stroke-width="1" />
<line x1="45.50" y1="397.80" x2="371.50" y2="397.80" stroke="#000" stroke-width="1" />
<g clip-path="url(#cu)">
<rect x="52.55" y="135.35" width="5.9" height="5.9" fill="#000"/>
<rect x="59.35" y="127.45" width="5.9" height="5.9" fill="#000"/>
<rect x="66.15" y="123.45" width="5.9" height="5.9" fill="#000"/>
<rect x="72.95" y="120.45" width="5.9" height="5.9" fill="#000"/>
<rect x="79.75" y="117.05" width="5.9" height="5.9" fill="#000"/>
<rect x="86.55" y="115.55" width="5.9" height="5.9" fill="#000"/>
<rect x="93.35" y="113.05" width="5.9" height="5.9" fill="#000"/>
<rect x="100.15" y="113.55" width="5.9" height="5.9" fill="#000"/>
<rect x="106.95" y="113.85" width="5.9" height="5.9" fill="#000"/>
<rect x="113.75" y="114.85" width="5.9" height="5.9" fill="#000"/>
<rect x="120.55" y="116.05" width="5.9" height="5.9" fill="#000"/>
<rect x="127.35" y="116.35" width="5.9" height="5.9" fill="#000"/>
<rect x="134.15" y="118.05" width="5.9" height="5.9" fill="#000"/>
<rect x="140.95" y="118.85" width="5.9" height="5.9" fill="#000"/>
<rect x="147.75" y="120.55" width="5.9" height="5.9" fill="#000"/>
<rect x="154.55" y="121.75" width="5.9" height="5.9" fill="#000"/>
<rect x="161.35" y="122.85" width="5.9" height="5.9" fill="#000"/>
<rect x="168.15" y="125.05" width="5.9" height="5.9" fill="#000"/>
<rect x="174.95" y="127.05" width="5.9" height="5.9" fill="#000"/>
<rect x="181.75" y="126.55" width="5.9" height="5.9" fill="#000"/>
<rect x="188.55" y="130.05" width="5.9" height="5.9" fill="#000"/>
<rect x="195.35" y="131.55" width="5.9" height="5.9" fill="#000"/>
<rect x="202.15" y="136.05" width="5.9" height="5.9" fill="#000"/>
<rect x="208.95" y="136.35" width="5.9" height="5.9" fill="#000"/>
<rect x="215.75" y="140.45" width="5.9" height="5.9" fill="#000"/>
<rect x="222.55" y="143.85" width="5.9" height="5.9" fill="#000"/>
<rect x="229.35" y="145.05" width="5.9" height="5.9" fill="#000"/>
<rect x="236.15" y="152.05" width="5.9" height="5.9" fill="#000"/>
<rect x="246.35" y="154.65" width="5.9" height="5.9" fill="#000"/>
<rect x="259.95" y="160.05" width="5.9" height="5.9" fill="#000"/>
<rect x="273.55" y="156.55" width="5.9" height="5.9" fill="#000"/>
<rect x="287.15" y="171.65" width="5.9" height="5.9" fill="#000"/>
<rect x="300.75" y="173.95" width="5.9" height="5.9" fill="#000"/>
<rect x="317.75" y="188.85" width="5.9" height="5.9" fill="#000"/>
<rect x="344.95" y="202.45" width="5.9" height="5.9" fill="#000"/>
<polyline points="55.50,127.03 62.30,120.51 69.10,120.66 75.90,116.08 82.70,116.86 89.50,116.96 96.30,113.31 103.10,115.53 109.90,113.39 116.70,116.69 123.50,116.18 130.30,118.62 137.10,117.57 143.90,122.16 150.70,121.72 157.50,125.42 164.30,128.42 171.10,129.49 177.90,134.29 184.70,135.69 191.50,141.26 198.30,141.73 205.10,146.47 211.90,151.20 218.70,154.49 225.50,158.97 232.30,161.50 239.10,165.30 249.30,172.52 262.90,179.73 276.50,192.90 290.10,197.70 303.70,204.00 320.70,223.50 347.90,236.70" fill="none" stroke="#329400" stroke-width="1.1" stroke-dasharray="2.5,2.5"/>
<rect x="52.90" y="124.43" width="5.2" height="5.2" fill="none" stroke="#329400" stroke-width="1.2"/><rect x="54.90" y="126.43" width="1.2" height="1.2" fill="#329400"/>
<rect x="59.70" y="117.91" width="5.2" height="5.2" fill="none" stroke="#329400" stroke-width="1.2"/><rect x="61.70" y="119.91" width="1.2" height="1.2" fill="#329400"/>
<rect x="66.50" y="118.06" width="5.2" height="5.2" fill="none" stroke="#329400" stroke-width="1.2"/><rect x="68.50" y="120.06" width="1.2" height="1.2" fill="#329400"/>
<rect x="73.30" y="113.48" width="5.2" height="5.2" fill="none" stroke="#329400" stroke-width="1.2"/><rect x="75.30" y="115.48" width="1.2" height="1.2" fill="#329400"/>
<rect x="80.10" y="114.26" width="5.2" height="5.2" fill="none" stroke="#329400" stroke-width="1.2"/><rect x="82.10" y="116.26" width="1.2" height="1.2" fill="#329400"/>
<rect x="86.90" y="114.36" width="5.2" height="5.2" fill="none" stroke="#329400" stroke-width="1.2"/><rect x="88.90" y="116.36" width="1.2" height="1.2" fill="#329400"/>
<rect x="93.70" y="110.71" width="5.2" height="5.2" fill="none" stroke="#329400" stroke-width="1.2"/><rect x="95.70" y="112.71" width="1.2" height="1.2" fill="#329400"/>
<rect x="100.50" y="112.93" width="5.2" height="5.2" fill="none" stroke="#329400" stroke-width="1.2"/><rect x="102.50" y="114.93" width="1.2" height="1.2" fill="#329400"/>
<rect x="107.30" y="110.79" width="5.2" height="5.2" fill="none" stroke="#329400" stroke-width="1.2"/><rect x="109.30" y="112.79" width="1.2" height="1.2" fill="#329400"/>
<rect x="114.10" y="114.09" width="5.2" height="5.2" fill="none" stroke="#329400" stroke-width="1.2"/><rect x="116.10" y="116.09" width="1.2" height="1.2" fill="#329400"/>
<rect x="120.90" y="113.58" width="5.2" height="5.2" fill="none" stroke="#329400" stroke-width="1.2"/><rect x="122.90" y="115.58" width="1.2" height="1.2" fill="#329400"/>
<rect x="127.70" y="116.02" width="5.2" height="5.2" fill="none" stroke="#329400" stroke-width="1.2"/><rect x="129.70" y="118.02" width="1.2" height="1.2" fill="#329400"/>
<rect x="134.50" y="114.97" width="5.2" height="5.2" fill="none" stroke="#329400" stroke-width="1.2"/><rect x="136.50" y="116.97" width="1.2" height="1.2" fill="#329400"/>
<rect x="141.30" y="119.56" width="5.2" height="5.2" fill="none" stroke="#329400" stroke-width="1.2"/><rect x="143.30" y="121.56" width="1.2" height="1.2" fill="#329400"/>
<rect x="148.10" y="119.12" width="5.2" height="5.2" fill="none" stroke="#329400" stroke-width="1.2"/><rect x="150.10" y="121.12" width="1.2" height="1.2" fill="#329400"/>
<rect x="154.90" y="122.82" width="5.2" height="5.2" fill="none" stroke="#329400" stroke-width="1.2"/><rect x="156.90" y="124.82" width="1.2" height="1.2" fill="#329400"/>
<rect x="161.70" y="125.82" width="5.2" height="5.2" fill="none" stroke="#329400" stroke-width="1.2"/><rect x="163.70" y="127.82" width="1.2" height="1.2" fill="#329400"/>
<rect x="168.50" y="126.89" width="5.2" height="5.2" fill="none" stroke="#329400" stroke-width="1.2"/><rect x="170.50" y="128.89" width="1.2" height="1.2" fill="#329400"/>
<rect x="175.30" y="131.69" width="5.2" height="5.2" fill="none" stroke="#329400" stroke-width="1.2"/><rect x="177.30" y="133.69" width="1.2" height="1.2" fill="#329400"/>
<rect x="182.10" y="133.09" width="5.2" height="5.2" fill="none" stroke="#329400" stroke-width="1.2"/><rect x="184.10" y="135.09" width="1.2" height="1.2" fill="#329400"/>
<rect x="188.90" y="138.66" width="5.2" height="5.2" fill="none" stroke="#329400" stroke-width="1.2"/><rect x="190.90" y="140.66" width="1.2" height="1.2" fill="#329400"/>
<rect x="195.70" y="139.13" width="5.2" height="5.2" fill="none" stroke="#329400" stroke-width="1.2"/><rect x="197.70" y="141.13" width="1.2" height="1.2" fill="#329400"/>
<rect x="202.50" y="143.87" width="5.2" height="5.2" fill="none" stroke="#329400" stroke-width="1.2"/><rect x="204.50" y="145.87" width="1.2" height="1.2" fill="#329400"/>
<rect x="209.30" y="148.60" width="5.2" height="5.2" fill="none" stroke="#329400" stroke-width="1.2"/><rect x="211.30" y="150.60" width="1.2" height="1.2" fill="#329400"/>
<rect x="216.10" y="151.89" width="5.2" height="5.2" fill="none" stroke="#329400" stroke-width="1.2"/><rect x="218.10" y="153.89" width="1.2" height="1.2" fill="#329400"/>
<rect x="222.90" y="156.37" width="5.2" height="5.2" fill="none" stroke="#329400" stroke-width="1.2"/><rect x="224.90" y="158.37" width="1.2" height="1.2" fill="#329400"/>
<rect x="229.70" y="158.90" width="5.2" height="5.2" fill="none" stroke="#329400" stroke-width="1.2"/><rect x="231.70" y="160.90" width="1.2" height="1.2" fill="#329400"/>
<rect x="236.50" y="162.70" width="5.2" height="5.2" fill="none" stroke="#329400" stroke-width="1.2"/><rect x="238.50" y="164.70" width="1.2" height="1.2" fill="#329400"/>
<rect x="246.70" y="169.92" width="5.2" height="5.2" fill="none" stroke="#329400" stroke-width="1.2"/><rect x="248.70" y="171.92" width="1.2" height="1.2" fill="#329400"/>
<rect x="260.30" y="177.13" width="5.2" height="5.2" fill="none" stroke="#329400" stroke-width="1.2"/><rect x="262.30" y="179.13" width="1.2" height="1.2" fill="#329400"/>
<rect x="273.90" y="190.30" width="5.2" height="5.2" fill="none" stroke="#329400" stroke-width="1.2"/><rect x="275.90" y="192.30" width="1.2" height="1.2" fill="#329400"/>
<rect x="287.50" y="195.10" width="5.2" height="5.2" fill="none" stroke="#329400" stroke-width="1.2"/><rect x="289.50" y="197.10" width="1.2" height="1.2" fill="#329400"/>
<rect x="301.10" y="201.40" width="5.2" height="5.2" fill="none" stroke="#329400" stroke-width="1.2"/><rect x="303.10" y="203.40" width="1.2" height="1.2" fill="#329400"/>
<rect x="318.10" y="220.90" width="5.2" height="5.2" fill="none" stroke="#329400" stroke-width="1.2"/><rect x="320.10" y="222.90" width="1.2" height="1.2" fill="#329400"/>
<rect x="345.30" y="234.10" width="5.2" height="5.2" fill="none" stroke="#329400" stroke-width="1.2"/><rect x="347.30" y="236.10" width="1.2" height="1.2" fill="#329400"/>
<polyline points="55.50,130.13 62.30,122.52 69.10,123.69 75.90,120.26 82.70,120.81 89.50,120.85 96.30,116.72 103.10,119.12 109.90,116.98 116.70,119.56 123.50,118.32 130.30,120.88 137.10,118.88 143.90,121.48 150.70,121.54 157.50,124.32 164.30,126.07 171.10,125.88 177.90,130.18 184.70,130.11 191.50,133.77 198.30,134.43 205.10,139.09 211.90,141.02 218.70,144.64 225.50,148.29 232.30,149.31 239.10,153.13 249.30,158.44 262.90,165.75 276.50,173.52 290.10,180.63 303.70,189.88 320.70,198.82 347.90,214.86" fill="none" stroke="#0000ff" stroke-width="1.1"/>
<polygon points="52.45,133.02 58.55,133.02 55.50,127.23" fill="#0000ff"/>
<polygon points="59.25,125.42 65.35,125.42 62.30,119.62" fill="#0000ff"/>
<polygon points="66.05,126.59 72.15,126.59 69.10,120.79" fill="#0000ff"/>
<polygon points="72.85,123.16 78.95,123.16 75.90,117.36" fill="#0000ff"/>
<polygon points="79.65,123.71 85.75,123.71 82.70,117.92" fill="#0000ff"/>
<polygon points="86.45,123.75 92.55,123.75 89.50,117.95" fill="#0000ff"/>
<polygon points="93.25,119.62 99.35,119.62 96.30,113.83" fill="#0000ff"/>
<polygon points="100.05,122.02 106.15,122.02 103.10,116.22" fill="#0000ff"/>
<polygon points="106.85,119.88 112.95,119.88 109.90,114.08" fill="#0000ff"/>
<polygon points="113.65,122.46 119.75,122.46 116.70,116.66" fill="#0000ff"/>
<polygon points="120.45,121.22 126.55,121.22 123.50,115.43" fill="#0000ff"/>
<polygon points="127.25,123.78 133.35,123.78 130.30,117.98" fill="#0000ff"/>
<polygon points="134.05,121.78 140.15,121.78 137.10,115.98" fill="#0000ff"/>
<polygon points="140.85,124.38 146.95,124.38 143.90,118.59" fill="#0000ff"/>
<polygon points="147.65,124.43 153.75,124.43 150.70,118.64" fill="#0000ff"/>
<polygon points="154.45,127.21 160.55,127.21 157.50,121.42" fill="#0000ff"/>
<polygon points="161.25,128.97 167.35,128.97 164.30,123.17" fill="#0000ff"/>
<polygon points="168.05,128.78 174.15,128.78 171.10,122.98" fill="#0000ff"/>
<polygon points="174.85,133.08 180.95,133.08 177.90,127.28" fill="#0000ff"/>
<polygon points="181.65,133.01 187.75,133.01 184.70,127.21" fill="#0000ff"/>
<polygon points="188.45,136.67 194.55,136.67 191.50,130.87" fill="#0000ff"/>
<polygon points="195.25,137.33 201.35,137.33 198.30,131.53" fill="#0000ff"/>
<polygon points="202.05,141.99 208.15,141.99 205.10,136.19" fill="#0000ff"/>
<polygon points="208.85,143.91 214.95,143.91 211.90,138.12" fill="#0000ff"/>
<polygon points="215.65,147.54 221.75,147.54 218.70,141.74" fill="#0000ff"/>
<polygon points="222.45,151.19 228.55,151.19 225.50,145.39" fill="#0000ff"/>
<polygon points="229.25,152.21 235.35,152.21 232.30,146.41" fill="#0000ff"/>
<polygon points="236.05,156.02 242.15,156.02 239.10,150.23" fill="#0000ff"/>
<polygon points="246.25,161.33 252.35,161.33 249.30,155.54" fill="#0000ff"/>
<polygon points="259.85,168.65 265.95,168.65 262.90,162.86" fill="#0000ff"/>
<polygon points="273.45,176.42 279.55,176.42 276.50,170.62" fill="#0000ff"/>
<polygon points="287.05,183.53 293.15,183.53 290.10,177.73" fill="#0000ff"/>
<polygon points="300.65,192.78 306.75,192.78 303.70,186.99" fill="#0000ff"/>
<polygon points="317.65,201.72 323.75,201.72 320.70,195.92" fill="#0000ff"/>
<polygon points="344.85,217.76 350.95,217.76 347.90,211.96" fill="#0000ff"/>
<polyline points="55.50,129.56 62.30,120.65 69.10,120.96 75.90,116.67 82.70,117.72 89.50,117.53 96.30,114.60 103.10,117.11 109.90,115.13 116.70,117.98 123.50,116.74 130.30,120.09 137.10,118.27 143.90,122.07 150.70,122.05 157.50,125.31 164.30,127.13 171.10,127.91 177.90,132.37 184.70,131.80 191.50,138.33 198.30,137.93 205.10,142.66 211.90,144.90 218.70,149.41 225.50,151.43 232.30,153.49 239.10,159.00 249.30,165.34 262.90,172.62 276.50,179.60 290.10,188.80 303.70,198.90 320.70,204.92 347.90,221.86" fill="none" stroke="#0596be" stroke-width="1.1" stroke-dasharray="5,1.5,1,1.5"/>
<polygon points="52.45,126.66 58.55,126.66 55.50,132.46" fill="#0596be"/>
<polygon points="59.25,117.75 65.35,117.75 62.30,123.54" fill="#0596be"/>
<polygon points="66.05,118.06 72.15,118.06 69.10,123.86" fill="#0596be"/>
<polygon points="72.85,113.77 78.95,113.77 75.90,119.57" fill="#0596be"/>
<polygon points="79.65,114.82 85.75,114.82 82.70,120.62" fill="#0596be"/>
<polygon points="86.45,114.63 92.55,114.63 89.50,120.43" fill="#0596be"/>
<polygon points="93.25,111.70 99.35,111.70 96.30,117.50" fill="#0596be"/>
<polygon points="100.05,114.21 106.15,114.21 103.10,120.01" fill="#0596be"/>
<polygon points="106.85,112.23 112.95,112.23 109.90,118.03" fill="#0596be"/>
<polygon points="113.65,115.08 119.75,115.08 116.70,120.88" fill="#0596be"/>
<polygon points="120.45,113.84 126.55,113.84 123.50,119.64" fill="#0596be"/>
<polygon points="127.25,117.19 133.35,117.19 130.30,122.99" fill="#0596be"/>
<polygon points="134.05,115.37 140.15,115.37 137.10,121.17" fill="#0596be"/>
<polygon points="140.85,119.17 146.95,119.17 143.90,124.97" fill="#0596be"/>
<polygon points="147.65,119.16 153.75,119.16 150.70,124.95" fill="#0596be"/>
<polygon points="154.45,122.41 160.55,122.41 157.50,128.21" fill="#0596be"/>
<polygon points="161.25,124.23 167.35,124.23 164.30,130.03" fill="#0596be"/>
<polygon points="168.05,125.01 174.15,125.01 171.10,130.81" fill="#0596be"/>
<polygon points="174.85,129.47 180.95,129.47 177.90,135.27" fill="#0596be"/>
<polygon points="181.65,128.91 187.75,128.91 184.70,134.70" fill="#0596be"/>
<polygon points="188.45,135.43 194.55,135.43 191.50,141.23" fill="#0596be"/>
<polygon points="195.25,135.03 201.35,135.03 198.30,140.83" fill="#0596be"/>
<polygon points="202.05,139.76 208.15,139.76 205.10,145.56" fill="#0596be"/>
<polygon points="208.85,142.00 214.95,142.00 211.90,147.80" fill="#0596be"/>
<polygon points="215.65,146.51 221.75,146.51 218.70,152.30" fill="#0596be"/>
<polygon points="222.45,148.53 228.55,148.53 225.50,154.33" fill="#0596be"/>
<polygon points="229.25,150.59 235.35,150.59 232.30,156.38" fill="#0596be"/>
<polygon points="236.05,156.10 242.15,156.10 239.10,161.89" fill="#0596be"/>
<polygon points="246.25,162.45 252.35,162.45 249.30,168.24" fill="#0596be"/>
<polygon points="259.85,169.72 265.95,169.72 262.90,175.52" fill="#0596be"/>
<polygon points="273.45,176.70 279.55,176.70 276.50,182.50" fill="#0596be"/>
<polygon points="287.05,185.90 293.15,185.90 290.10,191.70" fill="#0596be"/>
<polygon points="300.65,196.00 306.75,196.00 303.70,201.80" fill="#0596be"/>
<polygon points="317.65,202.02 323.75,202.02 320.70,207.82" fill="#0596be"/>
<polygon points="344.85,218.96 350.95,218.96 347.90,224.76" fill="#0596be"/>
<polyline points="55.50,92.40 62.30,92.40 69.10,100.10 75.90,103.10 82.70,110.30 89.50,115.81 96.30,116.77 103.10,124.29 109.90,126.60 116.70,133.45 123.50,134.92 130.30,141.70 137.10,143.70 143.90,151.40 150.70,151.80 157.50,157.50 164.30,163.20 171.10,164.70 177.90,170.00 184.70,174.80 191.50,180.10 198.30,182.60 205.10,190.70 211.90,191.80 218.70,200.00 225.50,208.50 232.30,204.70 239.10,215.50 249.30,215.50 262.90,225.00 276.50,235.20 290.10,237.60 303.70,242.50 320.70,256.30 347.90,274.40" fill="none" stroke="#ff0000" stroke-width="1.1" stroke-dasharray="1,1.5"/>
<line x1="239.10" y1="214.00" x2="239.10" y2="217.00" stroke="#ff0000" stroke-width="1.0" stroke-dasharray="1,1.5"/><line x1="237.70" y1="214.00" x2="240.50" y2="214.00" stroke="#ff0000" stroke-width="1.0"/><line x1="237.70" y1="217.00" x2="240.50" y2="217.00" stroke="#ff0000" stroke-width="1.0"/>
<line x1="249.30" y1="214.00" x2="249.30" y2="217.00" stroke="#ff0000" stroke-width="1.0" stroke-dasharray="1,1.5"/><line x1="247.90" y1="214.00" x2="250.70" y2="214.00" stroke="#ff0000" stroke-width="1.0"/><line x1="247.90" y1="217.00" x2="250.70" y2="217.00" stroke="#ff0000" stroke-width="1.0"/>
<line x1="262.90" y1="223.00" x2="262.90" y2="227.00" stroke="#ff0000" stroke-width="1.0" stroke-dasharray="1,1.5"/><line x1="261.50" y1="223.00" x2="264.30" y2="223.00" stroke="#ff0000" stroke-width="1.0"/><line x1="261.50" y1="227.00" x2="264.30" y2="227.00" stroke="#ff0000" stroke-width="1.0"/>
<line x1="276.50" y1="232.70" x2="276.50" y2="237.70" stroke="#ff0000" stroke-width="1.0" stroke-dasharray="1,1.5"/><line x1="275.10" y1="232.70" x2="277.90" y2="232.70" stroke="#ff0000" stroke-width="1.0"/><line x1="275.10" y1="237.70" x2="277.90" y2="237.70" stroke="#ff0000" stroke-width="1.0"/>
<line x1="290.10" y1="234.60" x2="290.10" y2="240.60" stroke="#ff0000" stroke-width="1.0" stroke-dasharray="1,1.5"/><line x1="288.70" y1="234.60" x2="291.50" y2="234.60" stroke="#ff0000" stroke-width="1.0"/><line x1="288.70" y1="240.60" x2="291.50" y2="240.60" stroke="#ff0000" stroke-width="1.0"/>
<line x1="303.70" y1="239.00" x2="303.70" y2="246.00" stroke="#ff0000" stroke-width="1.0" stroke-dasharray="1,1.5"/><line x1="302.30" y1="239.00" x2="305.10" y2="239.00" stroke="#ff0000" stroke-width="1.0"/><line x1="302.30" y1="246.00" x2="305.10" y2="246.00" stroke="#ff0000" stroke-width="1.0"/>
<line x1="320.70" y1="250.30" x2="320.70" y2="262.30" stroke="#ff0000" stroke-width="1.0" stroke-dasharray="1,1.5"/><line x1="319.30" y1="250.30" x2="322.10" y2="250.30" stroke="#ff0000" stroke-width="1.0"/><line x1="319.30" y1="262.30" x2="322.10" y2="262.30" stroke="#ff0000" stroke-width="1.0"/>
<line x1="347.90" y1="267.90" x2="347.90" y2="280.90" stroke="#ff0000" stroke-width="1.0" stroke-dasharray="1,1.5"/><line x1="346.50" y1="267.90" x2="349.30" y2="267.90" stroke="#ff0000" stroke-width="1.0"/><line x1="346.50" y1="280.90" x2="349.30" y2="280.90" stroke="#ff0000" stroke-width="1.0"/>
<polygon points="55.50,89.30 57.90,92.40 55.50,95.50 53.10,92.40" fill="#ff0000"/>
<polygon points="62.30,89.30 64.70,92.40 62.30,95.50 59.90,92.40" fill="#ff0000"/>
<polygon points="69.10,97.00 71.50,100.10 69.10,103.20 66.70,100.10" fill="#ff0000"/>
<polygon points="75.90,100.00 78.30,103.10 75.90,106.20 73.50,103.10" fill="#ff0000"/>
<polygon points="82.70,107.20 85.10,110.30 82.70,113.40 80.30,110.30" fill="#ff0000"/>
<polygon points="89.50,112.71 91.90,115.81 89.50,118.91 87.10,115.81" fill="#ff0000"/>
<polygon points="96.30,113.67 98.70,116.77 96.30,119.87 93.90,116.77" fill="#ff0000"/>
<polygon points="103.10,121.19 105.50,124.29 103.10,127.39 100.70,124.29" fill="#ff0000"/>
<polygon points="109.90,123.50 112.30,126.60 109.90,129.70 107.50,126.60" fill="#ff0000"/>
<polygon points="116.70,130.35 119.10,133.45 116.70,136.55 114.30,133.45" fill="#ff0000"/>
<polygon points="123.50,131.82 125.90,134.92 123.50,138.02 121.10,134.92" fill="#ff0000"/>
<polygon points="130.30,138.60 132.70,141.70 130.30,144.80 127.90,141.70" fill="#ff0000"/>
<polygon points="137.10,140.60 139.50,143.70 137.10,146.80 134.70,143.70" fill="#ff0000"/>
<polygon points="143.90,148.30 146.30,151.40 143.90,154.50 141.50,151.40" fill="#ff0000"/>
<polygon points="150.70,148.70 153.10,151.80 150.70,154.90 148.30,151.80" fill="#ff0000"/>
<polygon points="157.50,154.40 159.90,157.50 157.50,160.60 155.10,157.50" fill="#ff0000"/>
<polygon points="164.30,160.10 166.70,163.20 164.30,166.30 161.90,163.20" fill="#ff0000"/>
<polygon points="171.10,161.60 173.50,164.70 171.10,167.80 168.70,164.70" fill="#ff0000"/>
<polygon points="177.90,166.90 180.30,170.00 177.90,173.10 175.50,170.00" fill="#ff0000"/>
<polygon points="184.70,171.70 187.10,174.80 184.70,177.90 182.30,174.80" fill="#ff0000"/>
<polygon points="191.50,177.00 193.90,180.10 191.50,183.20 189.10,180.10" fill="#ff0000"/>
<polygon points="198.30,179.50 200.70,182.60 198.30,185.70 195.90,182.60" fill="#ff0000"/>
<polygon points="205.10,187.60 207.50,190.70 205.10,193.80 202.70,190.70" fill="#ff0000"/>
<polygon points="211.90,188.70 214.30,191.80 211.90,194.90 209.50,191.80" fill="#ff0000"/>
<polygon points="218.70,196.90 221.10,200.00 218.70,203.10 216.30,200.00" fill="#ff0000"/>
<polygon points="225.50,205.40 227.90,208.50 225.50,211.60 223.10,208.50" fill="#ff0000"/>
<polygon points="232.30,201.60 234.70,204.70 232.30,207.80 229.90,204.70" fill="#ff0000"/>
<polygon points="239.10,212.40 241.50,215.50 239.10,218.60 236.70,215.50" fill="#ff0000"/>
<polygon points="249.30,212.40 251.70,215.50 249.30,218.60 246.90,215.50" fill="#ff0000"/>
<polygon points="262.90,221.90 265.30,225.00 262.90,228.10 260.50,225.00" fill="#ff0000"/>
<polygon points="276.50,232.10 278.90,235.20 276.50,238.30 274.10,235.20" fill="#ff0000"/>
<polygon points="290.10,234.50 292.50,237.60 290.10,240.70 287.70,237.60" fill="#ff0000"/>
<polygon points="303.70,239.40 306.10,242.50 303.70,245.60 301.30,242.50" fill="#ff0000"/>
<polygon points="320.70,253.20 323.10,256.30 320.70,259.40 318.30,256.30" fill="#ff0000"/>
<polygon points="347.90,271.30 350.30,274.40 347.90,277.50 345.50,274.40" fill="#ff0000"/>
</g>
<g clip-path="url(#cr)">
<polyline points="55.50,347.90 62.30,354.00 69.10,372.40 75.90,365.40 82.70,383.90 89.50,391.00 96.30,385.90 103.10,393.50 109.90,382.70 116.70,392.90 123.50,385.30 130.30,394.80 137.10,382.60 143.90,399.40 150.70,389.90 157.50,401.00 164.30,409.40 171.10,404.40 177.90,416.80 184.70,425.20 191.50,434.40 198.30,429.80 205.10,430.90 211.90,450.50 218.70,446.90 225.50,451.70 232.30,457.60 239.10,443.40 249.30,463.90 262.90,471.90 276.50,545.72 290.10,500.11 303.70,517.82 320.70,538.19 347.90,536.42" fill="none" stroke="#329400" stroke-width="1.1" stroke-dasharray="2.5,2.5"/>
<line x1="177.90" y1="413.60" x2="177.90" y2="420.00" stroke="#329400" stroke-width="1.0"/><line x1="176.80" y1="413.60" x2="179.00" y2="413.60" stroke="#329400" stroke-width="1.0"/><line x1="176.80" y1="420.00" x2="179.00" y2="420.00" stroke="#329400" stroke-width="1.0"/>
<line x1="184.70" y1="421.80" x2="184.70" y2="422.00" stroke="#329400" stroke-width="1.0"/><line x1="184.70" y1="428.40" x2="184.70" y2="428.60" stroke="#329400" stroke-width="1.0"/><line x1="183.60" y1="421.80" x2="185.80" y2="421.80" stroke="#329400" stroke-width="1.0"/><line x1="183.60" y1="428.60" x2="185.80" y2="428.60" stroke="#329400" stroke-width="1.0"/>
<line x1="191.50" y1="430.80" x2="191.50" y2="431.20" stroke="#329400" stroke-width="1.0"/><line x1="191.50" y1="437.60" x2="191.50" y2="438.00" stroke="#329400" stroke-width="1.0"/><line x1="190.40" y1="430.80" x2="192.60" y2="430.80" stroke="#329400" stroke-width="1.0"/><line x1="190.40" y1="438.00" x2="192.60" y2="438.00" stroke="#329400" stroke-width="1.0"/>
<line x1="198.30" y1="426.20" x2="198.30" y2="426.60" stroke="#329400" stroke-width="1.0"/><line x1="198.30" y1="433.00" x2="198.30" y2="433.40" stroke="#329400" stroke-width="1.0"/><line x1="197.20" y1="426.20" x2="199.40" y2="426.20" stroke="#329400" stroke-width="1.0"/><line x1="197.20" y1="433.40" x2="199.40" y2="433.40" stroke="#329400" stroke-width="1.0"/>
<line x1="205.10" y1="427.10" x2="205.10" y2="427.70" stroke="#329400" stroke-width="1.0"/><line x1="205.10" y1="434.10" x2="205.10" y2="434.70" stroke="#329400" stroke-width="1.0"/><line x1="204.00" y1="427.10" x2="206.20" y2="427.10" stroke="#329400" stroke-width="1.0"/><line x1="204.00" y1="434.70" x2="206.20" y2="434.70" stroke="#329400" stroke-width="1.0"/>
<line x1="211.90" y1="446.50" x2="211.90" y2="447.30" stroke="#329400" stroke-width="1.0"/><line x1="211.90" y1="453.70" x2="211.90" y2="454.50" stroke="#329400" stroke-width="1.0"/><line x1="210.80" y1="446.50" x2="213.00" y2="446.50" stroke="#329400" stroke-width="1.0"/><line x1="210.80" y1="454.50" x2="213.00" y2="454.50" stroke="#329400" stroke-width="1.0"/>
<line x1="218.70" y1="442.90" x2="218.70" y2="443.70" stroke="#329400" stroke-width="1.0"/><line x1="218.70" y1="450.10" x2="218.70" y2="450.90" stroke="#329400" stroke-width="1.0"/><line x1="217.60" y1="442.90" x2="219.80" y2="442.90" stroke="#329400" stroke-width="1.0"/><line x1="217.60" y1="450.90" x2="219.80" y2="450.90" stroke="#329400" stroke-width="1.0"/>
<line x1="225.50" y1="447.70" x2="225.50" y2="448.50" stroke="#329400" stroke-width="1.0"/><line x1="225.50" y1="454.90" x2="225.50" y2="455.70" stroke="#329400" stroke-width="1.0"/><line x1="224.40" y1="447.70" x2="226.60" y2="447.70" stroke="#329400" stroke-width="1.0"/><line x1="224.40" y1="455.70" x2="226.60" y2="455.70" stroke="#329400" stroke-width="1.0"/>
<line x1="232.30" y1="453.60" x2="232.30" y2="454.40" stroke="#329400" stroke-width="1.0"/><line x1="232.30" y1="460.80" x2="232.30" y2="461.60" stroke="#329400" stroke-width="1.0"/><line x1="231.20" y1="453.60" x2="233.40" y2="453.60" stroke="#329400" stroke-width="1.0"/><line x1="231.20" y1="461.60" x2="233.40" y2="461.60" stroke="#329400" stroke-width="1.0"/>
<line x1="239.10" y1="439.40" x2="239.10" y2="440.20" stroke="#329400" stroke-width="1.0"/><line x1="239.10" y1="446.60" x2="239.10" y2="447.40" stroke="#329400" stroke-width="1.0"/><line x1="238.00" y1="439.40" x2="240.20" y2="439.40" stroke="#329400" stroke-width="1.0"/><line x1="238.00" y1="447.40" x2="240.20" y2="447.40" stroke="#329400" stroke-width="1.0"/>
<line x1="249.30" y1="459.90" x2="249.30" y2="460.70" stroke="#329400" stroke-width="1.0"/><line x1="249.30" y1="467.10" x2="249.30" y2="467.90" stroke="#329400" stroke-width="1.0"/><line x1="248.20" y1="459.90" x2="250.40" y2="459.90" stroke="#329400" stroke-width="1.0"/><line x1="248.20" y1="467.90" x2="250.40" y2="467.90" stroke="#329400" stroke-width="1.0"/>
<line x1="262.90" y1="467.70" x2="262.90" y2="468.70" stroke="#329400" stroke-width="1.0"/><line x1="262.90" y1="475.10" x2="262.90" y2="476.10" stroke="#329400" stroke-width="1.0"/><line x1="261.80" y1="467.70" x2="264.00" y2="467.70" stroke="#329400" stroke-width="1.0"/><line x1="261.80" y1="476.10" x2="264.00" y2="476.10" stroke="#329400" stroke-width="1.0"/>
<line x1="276.50" y1="541.22" x2="276.50" y2="542.52" stroke="#329400" stroke-width="1.0"/><line x1="276.50" y1="548.92" x2="276.50" y2="550.22" stroke="#329400" stroke-width="1.0"/><line x1="275.40" y1="541.22" x2="277.60" y2="541.22" stroke="#329400" stroke-width="1.0"/><line x1="275.40" y1="550.22" x2="277.60" y2="550.22" stroke="#329400" stroke-width="1.0"/>
<line x1="290.10" y1="495.61" x2="290.10" y2="496.91" stroke="#329400" stroke-width="1.0"/><line x1="290.10" y1="503.31" x2="290.10" y2="504.61" stroke="#329400" stroke-width="1.0"/><line x1="289.00" y1="495.61" x2="291.20" y2="495.61" stroke="#329400" stroke-width="1.0"/><line x1="289.00" y1="504.61" x2="291.20" y2="504.61" stroke="#329400" stroke-width="1.0"/>
<line x1="303.70" y1="512.82" x2="303.70" y2="514.62" stroke="#329400" stroke-width="1.0"/><line x1="303.70" y1="521.02" x2="303.70" y2="522.82" stroke="#329400" stroke-width="1.0"/><line x1="302.60" y1="512.82" x2="304.80" y2="512.82" stroke="#329400" stroke-width="1.0"/><line x1="302.60" y1="522.82" x2="304.80" y2="522.82" stroke="#329400" stroke-width="1.0"/>
<line x1="320.70" y1="533.19" x2="320.70" y2="534.99" stroke="#329400" stroke-width="1.0"/><line x1="320.70" y1="541.39" x2="320.70" y2="543.19" stroke="#329400" stroke-width="1.0"/><line x1="319.60" y1="533.19" x2="321.80" y2="533.19" stroke="#329400" stroke-width="1.0"/><line x1="319.60" y1="543.19" x2="321.80" y2="543.19" stroke="#329400" stroke-width="1.0"/>
<line x1="347.90" y1="530.42" x2="347.90" y2="533.22" stroke="#329400" stroke-width="1.0"/><line x1="347.90" y1="539.62" x2="347.90" y2="542.42" stroke="#329400" stroke-width="1.0"/><line x1="346.80" y1="530.42" x2="349.00" y2="530.42" stroke="#329400" stroke-width="1.0"/><line x1="346.80" y1="542.42" x2="349.00" y2="542.42" stroke="#329400" stroke-width="1.0"/>
<rect x="52.90" y="345.30" width="5.2" height="5.2" fill="none" stroke="#329400" stroke-width="1.2"/><rect x="54.90" y="347.30" width="1.2" height="1.2" fill="#329400"/>
<rect x="59.70" y="351.40" width="5.2" height="5.2" fill="none" stroke="#329400" stroke-width="1.2"/><rect x="61.70" y="353.40" width="1.2" height="1.2" fill="#329400"/>
<rect x="66.50" y="369.80" width="5.2" height="5.2" fill="none" stroke="#329400" stroke-width="1.2"/><rect x="68.50" y="371.80" width="1.2" height="1.2" fill="#329400"/>
<rect x="73.30" y="362.80" width="5.2" height="5.2" fill="none" stroke="#329400" stroke-width="1.2"/><rect x="75.30" y="364.80" width="1.2" height="1.2" fill="#329400"/>
<rect x="80.10" y="381.30" width="5.2" height="5.2" fill="none" stroke="#329400" stroke-width="1.2"/><rect x="82.10" y="383.30" width="1.2" height="1.2" fill="#329400"/>
<rect x="86.90" y="388.40" width="5.2" height="5.2" fill="none" stroke="#329400" stroke-width="1.2"/><rect x="88.90" y="390.40" width="1.2" height="1.2" fill="#329400"/>
<rect x="93.70" y="383.30" width="5.2" height="5.2" fill="none" stroke="#329400" stroke-width="1.2"/><rect x="95.70" y="385.30" width="1.2" height="1.2" fill="#329400"/>
<rect x="100.50" y="390.90" width="5.2" height="5.2" fill="none" stroke="#329400" stroke-width="1.2"/><rect x="102.50" y="392.90" width="1.2" height="1.2" fill="#329400"/>
<rect x="107.30" y="380.10" width="5.2" height="5.2" fill="none" stroke="#329400" stroke-width="1.2"/><rect x="109.30" y="382.10" width="1.2" height="1.2" fill="#329400"/>
<rect x="114.10" y="390.30" width="5.2" height="5.2" fill="none" stroke="#329400" stroke-width="1.2"/><rect x="116.10" y="392.30" width="1.2" height="1.2" fill="#329400"/>
<rect x="120.90" y="382.70" width="5.2" height="5.2" fill="none" stroke="#329400" stroke-width="1.2"/><rect x="122.90" y="384.70" width="1.2" height="1.2" fill="#329400"/>
<rect x="127.70" y="392.20" width="5.2" height="5.2" fill="none" stroke="#329400" stroke-width="1.2"/><rect x="129.70" y="394.20" width="1.2" height="1.2" fill="#329400"/>
<rect x="134.50" y="380.00" width="5.2" height="5.2" fill="none" stroke="#329400" stroke-width="1.2"/><rect x="136.50" y="382.00" width="1.2" height="1.2" fill="#329400"/>
<rect x="141.30" y="396.80" width="5.2" height="5.2" fill="none" stroke="#329400" stroke-width="1.2"/><rect x="143.30" y="398.80" width="1.2" height="1.2" fill="#329400"/>
<rect x="148.10" y="387.30" width="5.2" height="5.2" fill="none" stroke="#329400" stroke-width="1.2"/><rect x="150.10" y="389.30" width="1.2" height="1.2" fill="#329400"/>
<rect x="154.90" y="398.40" width="5.2" height="5.2" fill="none" stroke="#329400" stroke-width="1.2"/><rect x="156.90" y="400.40" width="1.2" height="1.2" fill="#329400"/>
<rect x="161.70" y="406.80" width="5.2" height="5.2" fill="none" stroke="#329400" stroke-width="1.2"/><rect x="163.70" y="408.80" width="1.2" height="1.2" fill="#329400"/>
<rect x="168.50" y="401.80" width="5.2" height="5.2" fill="none" stroke="#329400" stroke-width="1.2"/><rect x="170.50" y="403.80" width="1.2" height="1.2" fill="#329400"/>
<rect x="175.30" y="414.20" width="5.2" height="5.2" fill="none" stroke="#329400" stroke-width="1.2"/><rect x="177.30" y="416.20" width="1.2" height="1.2" fill="#329400"/>
<rect x="182.10" y="422.60" width="5.2" height="5.2" fill="none" stroke="#329400" stroke-width="1.2"/><rect x="184.10" y="424.60" width="1.2" height="1.2" fill="#329400"/>
<rect x="188.90" y="431.80" width="5.2" height="5.2" fill="none" stroke="#329400" stroke-width="1.2"/><rect x="190.90" y="433.80" width="1.2" height="1.2" fill="#329400"/>
<rect x="195.70" y="427.20" width="5.2" height="5.2" fill="none" stroke="#329400" stroke-width="1.2"/><rect x="197.70" y="429.20" width="1.2" height="1.2" fill="#329400"/>
<rect x="202.50" y="428.30" width="5.2" height="5.2" fill="none" stroke="#329400" stroke-width="1.2"/><rect x="204.50" y="430.30" width="1.2" height="1.2" fill="#329400"/>
<rect x="209.30" y="447.90" width="5.2" height="5.2" fill="none" stroke="#329400" stroke-width="1.2"/><rect x="211.30" y="449.90" width="1.2" height="1.2" fill="#329400"/>
<rect x="216.10" y="444.30" width="5.2" height="5.2" fill="none" stroke="#329400" stroke-width="1.2"/><rect x="218.10" y="446.30" width="1.2" height="1.2" fill="#329400"/>
<rect x="222.90" y="449.10" width="5.2" height="5.2" fill="none" stroke="#329400" stroke-width="1.2"/><rect x="224.90" y="451.10" width="1.2" height="1.2" fill="#329400"/>
<rect x="229.70" y="455.00" width="5.2" height="5.2" fill="none" stroke="#329400" stroke-width="1.2"/><rect x="231.70" y="457.00" width="1.2" height="1.2" fill="#329400"/>
<rect x="236.50" y="440.80" width="5.2" height="5.2" fill="none" stroke="#329400" stroke-width="1.2"/><rect x="238.50" y="442.80" width="1.2" height="1.2" fill="#329400"/>
<rect x="246.70" y="461.30" width="5.2" height="5.2" fill="none" stroke="#329400" stroke-width="1.2"/><rect x="248.70" y="463.30" width="1.2" height="1.2" fill="#329400"/>
<rect x="260.30" y="469.30" width="5.2" height="5.2" fill="none" stroke="#329400" stroke-width="1.2"/><rect x="262.30" y="471.30" width="1.2" height="1.2" fill="#329400"/>
<rect x="273.90" y="543.12" width="5.2" height="5.2" fill="none" stroke="#329400" stroke-width="1.2"/><rect x="275.90" y="545.12" width="1.2" height="1.2" fill="#329400"/>
<rect x="287.50" y="497.51" width="5.2" height="5.2" fill="none" stroke="#329400" stroke-width="1.2"/><rect x="289.50" y="499.51" width="1.2" height="1.2" fill="#329400"/>
<rect x="301.10" y="515.22" width="5.2" height="5.2" fill="none" stroke="#329400" stroke-width="1.2"/><rect x="303.10" y="517.22" width="1.2" height="1.2" fill="#329400"/>
<rect x="318.10" y="535.59" width="5.2" height="5.2" fill="none" stroke="#329400" stroke-width="1.2"/><rect x="320.10" y="537.59" width="1.2" height="1.2" fill="#329400"/>
<rect x="345.30" y="533.82" width="5.2" height="5.2" fill="none" stroke="#329400" stroke-width="1.2"/><rect x="347.30" y="535.82" width="1.2" height="1.2" fill="#329400"/>
<polyline points="55.50,361.60 62.30,362.90 69.10,385.80 75.90,383.90 82.70,401.40 89.50,408.20 96.30,401.00 103.10,409.40 109.90,398.60 116.70,405.60 123.50,394.80 130.30,404.80 137.10,388.40 143.90,396.40 150.70,389.10 157.50,396.10 164.30,399.00 171.10,388.40 177.90,398.60 184.70,400.50 191.50,401.20 198.30,397.50 205.10,398.20 211.90,405.40 218.70,403.30 225.50,404.40 232.30,403.60 239.10,389.50 249.30,401.50 262.90,410.00 276.50,459.90 290.10,424.50 303.70,455.30 320.70,428.90 347.90,439.70" fill="none" stroke="#0000ff" stroke-width="1.1"/>
<line x1="239.10" y1="386.00" x2="239.10" y2="393.00" stroke="#0000ff" stroke-width="1.0"/><line x1="237.70" y1="386.00" x2="240.50" y2="386.00" stroke="#0000ff" stroke-width="1.0"/><line x1="237.70" y1="393.00" x2="240.50" y2="393.00" stroke="#0000ff" stroke-width="1.0"/>
<line x1="249.30" y1="398.50" x2="249.30" y2="404.50" stroke="#0000ff" stroke-width="1.0"/><line x1="247.90" y1="398.50" x2="250.70" y2="398.50" stroke="#0000ff" stroke-width="1.0"/><line x1="247.90" y1="404.50" x2="250.70" y2="404.50" stroke="#0000ff" stroke-width="1.0"/>
<line x1="262.90" y1="406.50" x2="262.90" y2="413.50" stroke="#0000ff" stroke-width="1.0"/><line x1="261.50" y1="406.50" x2="264.30" y2="406.50" stroke="#0000ff" stroke-width="1.0"/><line x1="261.50" y1="413.50" x2="264.30" y2="413.50" stroke="#0000ff" stroke-width="1.0"/>
<line x1="276.50" y1="455.90" x2="276.50" y2="463.90" stroke="#0000ff" stroke-width="1.0"/><line x1="275.10" y1="455.90" x2="277.90" y2="455.90" stroke="#0000ff" stroke-width="1.0"/><line x1="275.10" y1="463.90" x2="277.90" y2="463.90" stroke="#0000ff" stroke-width="1.0"/>
<line x1="290.10" y1="420.50" x2="290.10" y2="428.50" stroke="#0000ff" stroke-width="1.0"/><line x1="288.70" y1="420.50" x2="291.50" y2="420.50" stroke="#0000ff" stroke-width="1.0"/><line x1="288.70" y1="428.50" x2="291.50" y2="428.50" stroke="#0000ff" stroke-width="1.0"/>
<line x1="303.70" y1="450.30" x2="303.70" y2="460.30" stroke="#0000ff" stroke-width="1.0"/><line x1="302.30" y1="450.30" x2="305.10" y2="450.30" stroke="#0000ff" stroke-width="1.0"/><line x1="302.30" y1="460.30" x2="305.10" y2="460.30" stroke="#0000ff" stroke-width="1.0"/>
<line x1="320.70" y1="423.40" x2="320.70" y2="434.40" stroke="#0000ff" stroke-width="1.0"/><line x1="319.30" y1="423.40" x2="322.10" y2="423.40" stroke="#0000ff" stroke-width="1.0"/><line x1="319.30" y1="434.40" x2="322.10" y2="434.40" stroke="#0000ff" stroke-width="1.0"/>
<line x1="347.90" y1="433.70" x2="347.90" y2="445.70" stroke="#0000ff" stroke-width="1.0"/><line x1="346.50" y1="433.70" x2="349.30" y2="433.70" stroke="#0000ff" stroke-width="1.0"/><line x1="346.50" y1="445.70" x2="349.30" y2="445.70" stroke="#0000ff" stroke-width="1.0"/>
<polygon points="52.45,364.50 58.55,364.50 55.50,358.70" fill="#0000ff"/>
<polygon points="59.25,365.80 65.35,365.80 62.30,360.00" fill="#0000ff"/>
<polygon points="66.05,388.70 72.15,388.70 69.10,382.90" fill="#0000ff"/>
<polygon points="72.85,386.80 78.95,386.80 75.90,381.00" fill="#0000ff"/>
<polygon points="79.65,404.30 85.75,404.30 82.70,398.50" fill="#0000ff"/>
<polygon points="86.45,411.10 92.55,411.10 89.50,405.30" fill="#0000ff"/>
<polygon points="93.25,403.90 99.35,403.90 96.30,398.10" fill="#0000ff"/>
<polygon points="100.05,412.30 106.15,412.30 103.10,406.50" fill="#0000ff"/>
<polygon points="106.85,401.50 112.95,401.50 109.90,395.70" fill="#0000ff"/>
<polygon points="113.65,408.50 119.75,408.50 116.70,402.70" fill="#0000ff"/>
<polygon points="120.45,397.70 126.55,397.70 123.50,391.90" fill="#0000ff"/>
<polygon points="127.25,407.70 133.35,407.70 130.30,401.90" fill="#0000ff"/>
<polygon points="134.05,391.30 140.15,391.30 137.10,385.50" fill="#0000ff"/>
<polygon points="140.85,399.30 146.95,399.30 143.90,393.50" fill="#0000ff"/>
<polygon points="147.65,392.00 153.75,392.00 150.70,386.20" fill="#0000ff"/>
<polygon points="154.45,399.00 160.55,399.00 157.50,393.20" fill="#0000ff"/>
<polygon points="161.25,401.90 167.35,401.90 164.30,396.10" fill="#0000ff"/>
<polygon points="168.05,391.30 174.15,391.30 171.10,385.50" fill="#0000ff"/>
<polygon points="174.85,401.50 180.95,401.50 177.90,395.70" fill="#0000ff"/>
<polygon points="181.65,403.40 187.75,403.40 184.70,397.60" fill="#0000ff"/>
<polygon points="188.45,404.10 194.55,404.10 191.50,398.30" fill="#0000ff"/>
<polygon points="195.25,400.40 201.35,400.40 198.30,394.60" fill="#0000ff"/>
<polygon points="202.05,401.10 208.15,401.10 205.10,395.30" fill="#0000ff"/>
<polygon points="208.85,408.30 214.95,408.30 211.90,402.50" fill="#0000ff"/>
<polygon points="215.65,406.20 221.75,406.20 218.70,400.40" fill="#0000ff"/>
<polygon points="222.45,407.30 228.55,407.30 225.50,401.50" fill="#0000ff"/>
<polygon points="229.25,406.50 235.35,406.50 232.30,400.70" fill="#0000ff"/>
<polygon points="236.05,392.40 242.15,392.40 239.10,386.60" fill="#0000ff"/>
<polygon points="246.25,404.40 252.35,404.40 249.30,398.60" fill="#0000ff"/>
<polygon points="259.85,412.90 265.95,412.90 262.90,407.10" fill="#0000ff"/>
<polygon points="273.45,462.80 279.55,462.80 276.50,457.00" fill="#0000ff"/>
<polygon points="287.05,427.40 293.15,427.40 290.10,421.60" fill="#0000ff"/>
<polygon points="300.65,458.20 306.75,458.20 303.70,452.40" fill="#0000ff"/>
<polygon points="317.65,431.80 323.75,431.80 320.70,426.00" fill="#0000ff"/>
<polygon points="344.85,442.60 350.95,442.60 347.90,436.80" fill="#0000ff"/>
<polyline points="55.50,359.10 62.30,354.60 69.10,373.70 75.90,368.00 82.70,387.70 89.50,393.50 96.30,391.60 103.10,400.50 109.90,390.40 116.70,398.60 123.50,387.80 130.30,401.30 137.10,385.70 143.90,399.00 150.70,391.40 157.50,400.50 164.30,403.70 171.10,397.40 177.90,408.30 184.70,408.00 191.50,421.40 198.30,413.00 205.10,414.00 211.90,422.60 218.70,424.40 225.50,418.30 232.30,422.10 239.10,415.50 249.30,432.10 262.90,440.40 276.50,486.82 290.10,460.70 303.70,495.23 320.70,455.90 347.90,470.70" fill="none" stroke="#0596be" stroke-width="1.1" stroke-dasharray="5,1.5,1,1.5"/>
<line x1="239.10" y1="412.00" x2="239.10" y2="419.00" stroke="#0596be" stroke-width="1.0" stroke-dasharray="5,1.5,1,1.5"/><line x1="237.70" y1="412.00" x2="240.50" y2="412.00" stroke="#0596be" stroke-width="1.0"/><line x1="237.70" y1="419.00" x2="240.50" y2="419.00" stroke="#0596be" stroke-width="1.0"/>
<line x1="249.30" y1="428.60" x2="249.30" y2="435.60" stroke="#0596be" stroke-width="1.0" stroke-dasharray="5,1.5,1,1.5"/><line x1="247.90" y1="428.60" x2="250.70" y2="428.60" stroke="#0596be" stroke-width="1.0"/><line x1="247.90" y1="435.60" x2="250.70" y2="435.60" stroke="#0596be" stroke-width="1.0"/>
<line x1="262.90" y1="436.40" x2="262.90" y2="444.40" stroke="#0596be" stroke-width="1.0" stroke-dasharray="5,1.5,1,1.5"/><line x1="261.50" y1="436.40" x2="264.30" y2="436.40" stroke="#0596be" stroke-width="1.0"/><line x1="261.50" y1="444.40" x2="264.30" y2="444.40" stroke="#0596be" stroke-width="1.0"/>
<line x1="276.50" y1="482.32" x2="276.50" y2="491.32" stroke="#0596be" stroke-width="1.0" stroke-dasharray="5,1.5,1,1.5"/><line x1="275.10" y1="482.32" x2="277.90" y2="482.32" stroke="#0596be" stroke-width="1.0"/><line x1="275.10" y1="491.32" x2="277.90" y2="491.32" stroke="#0596be" stroke-width="1.0"/>
<line x1="290.10" y1="454.70" x2="290.10" y2="466.70" stroke="#0596be" stroke-width="1.0" stroke-dasharray="5,1.5,1,1.5"/><line x1="288.70" y1="454.70" x2="291.50" y2="454.70" stroke="#0596be" stroke-width="1.0"/><line x1="288.70" y1="466.70" x2="291.50" y2="466.70" stroke="#0596be" stroke-width="1.0"/>
<line x1="303.70" y1="489.23" x2="303.70" y2="501.23" stroke="#0596be" stroke-width="1.0" stroke-dasharray="5,1.5,1,1.5"/><line x1="302.30" y1="489.23" x2="305.10" y2="489.23" stroke="#0596be" stroke-width="1.0"/><line x1="302.30" y1="501.23" x2="305.10" y2="501.23" stroke="#0596be" stroke-width="1.0"/>
<line x1="320.70" y1="449.40" x2="320.70" y2="462.40" stroke="#0596be" stroke-width="1.0" stroke-dasharray="5,1.5,1,1.5"/><line x1="319.30" y1="449.40" x2="322.10" y2="449.40" stroke="#0596be" stroke-width="1.0"/><line x1="319.30" y1="462.40" x2="322.10" y2="462.40" stroke="#0596be" stroke-width="1.0"/>
<line x1="347.90" y1="463.70" x2="347.90" y2="477.70" stroke="#0596be" stroke-width="1.0" stroke-dasharray="5,1.5,1,1.5"/><line x1="346.50" y1="463.70" x2="349.30" y2="463.70" stroke="#0596be" stroke-width="1.0"/><line x1="346.50" y1="477.70" x2="349.30" y2="477.70" stroke="#0596be" stroke-width="1.0"/>
<polygon points="52.45,356.20 58.55,356.20 55.50,362.00" fill="#0596be"/>
<polygon points="59.25,351.70 65.35,351.70 62.30,357.50" fill="#0596be"/>
<polygon points="66.05,370.80 72.15,370.80 69.10,376.60" fill="#0596be"/>
<polygon points="72.85,365.10 78.95,365.10 75.90,370.90" fill="#0596be"/>
<polygon points="79.65,384.80 85.75,384.80 82.70,390.60" fill="#0596be"/>
<polygon points="86.45,390.60 92.55,390.60 89.50,396.40" fill="#0596be"/>
<polygon points="93.25,388.70 99.35,388.70 96.30,394.50" fill="#0596be"/>
<polygon points="100.05,397.60 106.15,397.60 103.10,403.40" fill="#0596be"/>
<polygon points="106.85,387.50 112.95,387.50 109.90,393.30" fill="#0596be"/>
<polygon points="113.65,395.70 119.75,395.70 116.70,401.50" fill="#0596be"/>
<polygon points="120.45,384.90 126.55,384.90 123.50,390.70" fill="#0596be"/>
<polygon points="127.25,398.40 133.35,398.40 130.30,404.20" fill="#0596be"/>
<polygon points="134.05,382.80 140.15,382.80 137.10,388.60" fill="#0596be"/>
<polygon points="140.85,396.10 146.95,396.10 143.90,401.90" fill="#0596be"/>
<polygon points="147.65,388.50 153.75,388.50 150.70,394.30" fill="#0596be"/>
<polygon points="154.45,397.60 160.55,397.60 157.50,403.40" fill="#0596be"/>
<polygon points="161.25,400.80 167.35,400.80 164.30,406.60" fill="#0596be"/>
<polygon points="168.05,394.50 174.15,394.50 171.10,400.30" fill="#0596be"/>
<polygon points="174.85,405.40 180.95,405.40 177.90,411.20" fill="#0596be"/>
<polygon points="181.65,405.10 187.75,405.10 184.70,410.90" fill="#0596be"/>
<polygon points="188.45,418.50 194.55,418.50 191.50,424.30" fill="#0596be"/>
<polygon points="195.25,410.10 201.35,410.10 198.30,415.90" fill="#0596be"/>
<polygon points="202.05,411.10 208.15,411.10 205.10,416.90" fill="#0596be"/>
<polygon points="208.85,419.70 214.95,419.70 211.90,425.50" fill="#0596be"/>
<polygon points="215.65,421.50 221.75,421.50 218.70,427.30" fill="#0596be"/>
<polygon points="222.45,415.40 228.55,415.40 225.50,421.20" fill="#0596be"/>
<polygon points="229.25,419.20 235.35,419.20 232.30,425.00" fill="#0596be"/>
<polygon points="236.05,412.60 242.15,412.60 239.10,418.40" fill="#0596be"/>
<polygon points="246.25,429.20 252.35,429.20 249.30,435.00" fill="#0596be"/>
<polygon points="259.85,437.50 265.95,437.50 262.90,443.30" fill="#0596be"/>
<polygon points="273.45,483.92 279.55,483.92 276.50,489.72" fill="#0596be"/>
<polygon points="287.05,457.80 293.15,457.80 290.10,463.60" fill="#0596be"/>
<polygon points="300.65,492.34 306.75,492.34 303.70,498.13" fill="#0596be"/>
<polygon points="317.65,453.00 323.75,453.00 320.70,458.80" fill="#0596be"/>
<polygon points="344.85,467.80 350.95,467.80 347.90,473.60" fill="#0596be"/>
<polyline points="55.50,194.52 62.30,229.50 69.10,281.32 75.90,307.89 82.70,354.84 89.50,385.90 96.30,401.20 103.10,432.30 109.90,441.20 116.70,467.10 123.50,468.30 130.30,497.01 137.10,498.33 143.90,528.89 150.70,523.14 157.50,543.07 164.30,563.44 171.10,560.34 177.90,574.95 184.70,598.43 191.50,606.40 198.30,610.83 205.10,626.77 211.90,630.31 218.70,648.47 225.50,671.06 232.30,648.91 239.10,665.74 249.30,654.23 262.90,672.39 276.50,733.06 290.10,676.82 303.70,688.33 320.70,683.46 347.90,703.39" fill="none" stroke="#ff0000" stroke-width="1.1" stroke-dasharray="1,1.5"/>
<polygon points="55.50,191.42 57.90,194.52 55.50,197.62 53.10,194.52" fill="#ff0000"/>
<polygon points="62.30,226.40 64.70,229.50 62.30,232.60 59.90,229.50" fill="#ff0000"/>
<polygon points="69.10,278.22 71.50,281.32 69.10,284.42 66.70,281.32" fill="#ff0000"/>
<polygon points="75.90,304.79 78.30,307.89 75.90,310.99 73.50,307.89" fill="#ff0000"/>
<polygon points="82.70,351.74 85.10,354.84 82.70,357.94 80.30,354.84" fill="#ff0000"/>
<polygon points="89.50,382.80 91.90,385.90 89.50,389.00 87.10,385.90" fill="#ff0000"/>
<polygon points="96.30,398.10 98.70,401.20 96.30,404.30 93.90,401.20" fill="#ff0000"/>
<polygon points="103.10,429.20 105.50,432.30 103.10,435.40 100.70,432.30" fill="#ff0000"/>
<polygon points="109.90,438.10 112.30,441.20 109.90,444.30 107.50,441.20" fill="#ff0000"/>
<polygon points="116.70,464.00 119.10,467.10 116.70,470.20 114.30,467.10" fill="#ff0000"/>
<polygon points="123.50,465.20 125.90,468.30 123.50,471.40 121.10,468.30" fill="#ff0000"/>
<polygon points="130.30,493.91 132.70,497.01 130.30,500.11 127.90,497.01" fill="#ff0000"/>
<polygon points="137.10,495.23 139.50,498.33 137.10,501.43 134.70,498.33" fill="#ff0000"/>
<polygon points="143.90,525.79 146.30,528.89 143.90,531.99 141.50,528.89" fill="#ff0000"/>
<polygon points="150.70,520.04 153.10,523.14 150.70,526.24 148.30,523.14" fill="#ff0000"/>
<polygon points="157.50,539.97 159.90,543.07 157.50,546.17 155.10,543.07" fill="#ff0000"/>
<polygon points="164.30,560.34 166.70,563.44 164.30,566.54 161.90,563.44" fill="#ff0000"/>
<polygon points="171.10,557.24 173.50,560.34 171.10,563.44 168.70,560.34" fill="#ff0000"/>
<polygon points="177.90,571.85 180.30,574.95 177.90,578.05 175.50,574.95" fill="#ff0000"/>
<polygon points="184.70,595.33 187.10,598.43 184.70,601.53 182.30,598.43" fill="#ff0000"/>
<polygon points="191.50,603.30 193.90,606.40 191.50,609.50 189.10,606.40" fill="#ff0000"/>
<polygon points="198.30,607.73 200.70,610.83 198.30,613.93 195.90,610.83" fill="#ff0000"/>
<polygon points="205.10,623.67 207.50,626.77 205.10,629.87 202.70,626.77" fill="#ff0000"/>
<polygon points="211.90,627.21 214.30,630.31 211.90,633.41 209.50,630.31" fill="#ff0000"/>
<polygon points="218.70,645.37 221.10,648.47 218.70,651.57 216.30,648.47" fill="#ff0000"/>
<polygon points="225.50,667.96 227.90,671.06 225.50,674.16 223.10,671.06" fill="#ff0000"/>
<polygon points="232.30,645.81 234.70,648.91 232.30,652.01 229.90,648.91" fill="#ff0000"/>
<polygon points="239.10,662.64 241.50,665.74 239.10,668.84 236.70,665.74" fill="#ff0000"/>
<polygon points="249.30,651.13 251.70,654.23 249.30,657.33 246.90,654.23" fill="#ff0000"/>
<polygon points="262.90,669.29 265.30,672.39 262.90,675.49 260.50,672.39" fill="#ff0000"/>
<polygon points="276.50,729.96 278.90,733.06 276.50,736.16 274.10,733.06" fill="#ff0000"/>
<polygon points="290.10,673.72 292.50,676.82 290.10,679.92 287.70,676.82" fill="#ff0000"/>
<polygon points="303.70,685.23 306.10,688.33 303.70,691.43 301.30,688.33" fill="#ff0000"/>
<polygon points="320.70,680.36 323.10,683.46 320.70,686.56 318.30,683.46" fill="#ff0000"/>
<polygon points="347.90,700.29 350.30,703.39 347.90,706.49 345.50,703.39" fill="#ff0000"/>
</g>
<text x="55.50" y="488.80" font-size="11.5" text-anchor="middle" fill="#000" >0</text>
<text x="126.70" y="488.80" font-size="11.5" text-anchor="middle" fill="#000" >1</text>
<text x="197.90" y="488.80" font-size="11.5" text-anchor="middle" fill="#000" >2</text>
<text x="269.10" y="488.80" font-size="11.5" text-anchor="middle" fill="#000" >3</text>
<text x="340.30" y="488.80" font-size="11.5" text-anchor="middle" fill="#000" >4</text>
<text x="40.50" y="64.20" font-size="11.5" text-anchor="end" fill="#000" >10</text>
<text x="40.50" y="110.00" font-size="11.5" text-anchor="end" fill="#000" >1</text>
<text x="33.30" y="156.82" font-size="11" text-anchor="end" fill="#000" >10</text>
<text x="33.00" y="152.02" font-size="7" text-anchor="start" fill="#000" >&#8722;1</text>
<text x="31.30" y="202.34" font-size="11" text-anchor="end" fill="#000" >10</text>
<text x="31.00" y="197.94" font-size="7" text-anchor="start" fill="#000" >&#8722;2</text>
<text x="31.30" y="247.86" font-size="11" text-anchor="end" fill="#000" >10</text>
<text x="31.00" y="243.46" font-size="7" text-anchor="start" fill="#000" >&#8722;3</text>
<text x="31.30" y="293.38" font-size="11" text-anchor="end" fill="#000" >10</text>
<text x="31.00" y="288.98" font-size="7" text-anchor="start" fill="#000" >&#8722;4</text>
<text x="38.50" y="341.11" font-size="11.5" text-anchor="end" fill="#000" >2</text>
<text x="38.50" y="401.80" font-size="11.5" text-anchor="end" fill="#000" >1</text>
<text x="38.50" y="462.49" font-size="11.5" text-anchor="end" fill="#000" >0.5</text>
<text x="374.30" y="341.11" font-size="11.5" text-anchor="start" fill="#000" >2</text>
<text x="374.30" y="401.80" font-size="11.5" text-anchor="start" fill="#000" >1</text>
<text x="374.30" y="462.49" font-size="11.5" text-anchor="start" fill="#000" >0.5</text>
<text x="51.00" y="13.90" font-size="12.15" text-anchor="start" fill="#000" >13000 GeV pp</text>
<text x="364.70" y="13.90" font-size="12" text-anchor="end" fill="#000" >Z+Jet</text>
<text x="79.50" y="41.70" font-size="12" text-anchor="start" fill="#000" >Toward region, 120</text>
<text x="186.90" y="41.70" font-size="12" text-anchor="start" fill="#000" >&lt;</text>
<text x="196.60" y="41.70" font-size="12" text-anchor="start" fill="#000" >p</text>
<text x="201.60" y="36.60" font-size="8" text-anchor="start" fill="#000" >Z</text>
<text x="201.60" y="48.60" font-size="8" text-anchor="start" fill="#000" >T</text>
<text x="209.80" y="41.70" font-size="12" text-anchor="start" fill="#000" >&lt;</text>
<text x="220.90" y="41.70" font-size="12" text-anchor="start" fill="#000" >200 [GeV], high thrust</text>
<text x="318" y="502.7" font-size="12">N<tspan font-size="8" dy="3.5">ch</tspan><tspan dy="-3.5">/d&#951; d&#981;</tspan></text>
<text transform="translate(15,131.8) rotate(-90)" font-size="12">1/N<tspan font-size="7" dy="3.2">ev</tspan><tspan dy="-3.2"> dN</tspan><tspan font-size="7" dy="3.2">ev</tspan><tspan dy="-3.2">/dN</tspan><tspan font-size="7" dy="3.2">ch</tspan><tspan dy="-3.2">/d&#951; d&#981;</tspan></text>
<text transform="translate(18,428.2) rotate(-90)" font-size="9.2">Ratio to ATLAS</text>
<text transform="translate(380.2,126.8) rotate(-90)" font-size="9.5" fill="#808080">Rivet 4.1.0, &#8805; 3.6M events</text>
<text transform="translate(380.2,313.6) rotate(-90)" font-size="9.5" fill="#808080">mcplots.cern.ch [arXiv:2401.10621]</text>
<text x="163.00" y="301.70" font-size="8" text-anchor="start" fill="#a0a0a0" >(ATLAS_2019_I1736531)</text>
<text x="94.30" y="226.80" font-size="9.4" text-anchor="start" fill="#000" >ATLAS</text>
<text x="94.30" y="240.10" font-size="9.4" text-anchor="start" fill="#000" >Herwig 7.2.1 default</text>
<text x="94.30" y="253.20" font-size="9.4" text-anchor="start" fill="#000" >Pythia 8.315 default</text>
<text x="94.30" y="266.00" font-size="9.4" text-anchor="start" fill="#000" >Pythia 8.315 vincia-default</text>
<text x="94.30" y="279.00" font-size="9.4" text-anchor="start" fill="#000" >Sherpa 2.2.9 default</text>
<rect x="73.50" y="221.20" width="5.6" height="5.6" fill="#000"/>
<line x1="64" y1="237.1" x2="89" y2="237.1" stroke="#329400" stroke-opacity="0.7" stroke-width="1" stroke-dasharray="2.5,2.5"/>
<rect x="73.90" y="234.50" width="5.2" height="5.2" fill="none" stroke="#329400" stroke-width="1.2"/><rect x="75.90" y="236.50" width="1.2" height="1.2" fill="#329400"/>
<line x1="64" y1="250.1" x2="89" y2="250.1" stroke="#0000ff" stroke-opacity="0.65" stroke-width="1"/>
<polygon points="73.60,252.85 79.40,252.85 76.50,247.34" fill="#0000ff"/>
<line x1="64" y1="263.1" x2="89" y2="263.1" stroke="#0596be" stroke-opacity="0.7" stroke-width="1" stroke-dasharray="5,1.5,1,1.5"/>
<polygon points="73.60,260.35 79.40,260.35 76.50,265.86" fill="#0596be"/>
<line x1="64" y1="276.3" x2="89" y2="276.3" stroke="#ff0000" stroke-opacity="0.7" stroke-width="1" stroke-dasharray="1,1.5"/>
<polygon points="76.50,273.20 78.90,276.30 76.50,279.40 74.10,276.30" fill="#ff0000"/>
</svg></body></html>
